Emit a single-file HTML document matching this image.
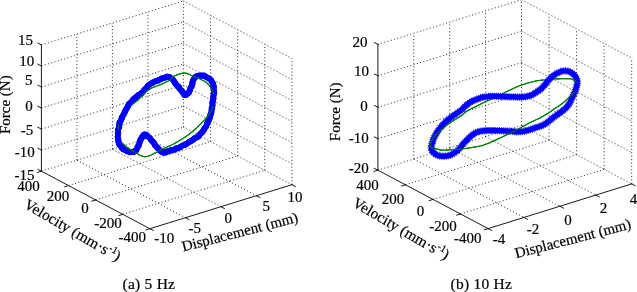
<!DOCTYPE html><html><head><meta charset="utf-8"><style>
html,body{margin:0;padding:0;background:#fff;width:637px;height:292px;overflow:hidden}
svg{display:block;will-change:transform}
.g{stroke:#000;stroke-width:1;stroke-dasharray:1 2.4;opacity:.85;fill:none}
.a{stroke:#1a1a1a;stroke-width:1;fill:none;stroke-linecap:square}
text{font-family:"Liberation Serif",serif;fill:#000;stroke:#000;stroke-width:0.2px}
</style></head><body>
<svg width="637" height="292" viewBox="0 0 637 292">
<rect width="637" height="292" fill="#fff"/>
<line x1="76.90" y1="160.20" x2="185.40" y2="217.70" class="g"/>
<line x1="112.40" y1="149.20" x2="220.90" y2="206.70" class="g"/>
<line x1="147.90" y1="138.20" x2="256.40" y2="195.70" class="g"/>
<line x1="183.40" y1="127.20" x2="291.90" y2="184.70" class="g"/>
<line x1="41.40" y1="171.20" x2="183.40" y2="127.20" class="g"/>
<line x1="68.53" y1="185.57" x2="210.53" y2="141.57" class="g"/>
<line x1="95.65" y1="199.95" x2="237.65" y2="155.95" class="g"/>
<line x1="122.78" y1="214.32" x2="264.77" y2="170.32" class="g"/>
<line x1="76.90" y1="160.20" x2="76.90" y2="34.00" class="g"/>
<line x1="112.40" y1="149.20" x2="112.40" y2="23.00" class="g"/>
<line x1="147.90" y1="138.20" x2="147.90" y2="12.00" class="g"/>
<line x1="183.40" y1="127.20" x2="183.40" y2="1.00" class="g"/>
<line x1="41.40" y1="150.17" x2="183.40" y2="106.17" class="g"/>
<line x1="41.40" y1="129.13" x2="183.40" y2="85.13" class="g"/>
<line x1="41.40" y1="108.10" x2="183.40" y2="64.10" class="g"/>
<line x1="41.40" y1="87.07" x2="183.40" y2="43.07" class="g"/>
<line x1="41.40" y1="66.03" x2="183.40" y2="22.03" class="g"/>
<line x1="41.40" y1="45.00" x2="183.40" y2="1.00" class="g"/>
<line x1="210.53" y1="141.57" x2="210.53" y2="15.37" class="g"/>
<line x1="237.65" y1="155.95" x2="237.65" y2="29.75" class="g"/>
<line x1="264.77" y1="170.32" x2="264.77" y2="44.12" class="g"/>
<line x1="291.90" y1="184.70" x2="291.90" y2="58.50" class="g"/>
<line x1="183.40" y1="106.17" x2="291.90" y2="163.67" class="g"/>
<line x1="183.40" y1="85.13" x2="291.90" y2="142.63" class="g"/>
<line x1="183.40" y1="64.10" x2="291.90" y2="121.60" class="g"/>
<line x1="183.40" y1="43.07" x2="291.90" y2="100.57" class="g"/>
<line x1="183.40" y1="22.03" x2="291.90" y2="79.53" class="g"/>
<line x1="183.40" y1="1.00" x2="291.90" y2="58.50" class="g"/>
<line x1="413.80" y1="159.02" x2="524.00" y2="217.42" class="g"/>
<line x1="449.70" y1="147.85" x2="559.90" y2="206.25" class="g"/>
<line x1="485.60" y1="136.67" x2="595.80" y2="195.07" class="g"/>
<line x1="521.50" y1="125.50" x2="631.70" y2="183.90" class="g"/>
<line x1="377.90" y1="170.20" x2="521.50" y2="125.50" class="g"/>
<line x1="405.45" y1="184.80" x2="549.05" y2="140.10" class="g"/>
<line x1="433.00" y1="199.40" x2="576.60" y2="154.70" class="g"/>
<line x1="460.55" y1="214.00" x2="604.15" y2="169.30" class="g"/>
<line x1="413.80" y1="159.02" x2="413.80" y2="33.22" class="g"/>
<line x1="449.70" y1="147.85" x2="449.70" y2="22.05" class="g"/>
<line x1="485.60" y1="136.67" x2="485.60" y2="10.87" class="g"/>
<line x1="521.50" y1="125.50" x2="521.50" y2="-0.30" class="g"/>
<line x1="377.90" y1="138.75" x2="521.50" y2="94.05" class="g"/>
<line x1="377.90" y1="107.30" x2="521.50" y2="62.60" class="g"/>
<line x1="377.90" y1="75.85" x2="521.50" y2="31.15" class="g"/>
<line x1="377.90" y1="44.40" x2="521.50" y2="-0.30" class="g"/>
<line x1="549.05" y1="140.10" x2="549.05" y2="14.30" class="g"/>
<line x1="576.60" y1="154.70" x2="576.60" y2="28.90" class="g"/>
<line x1="604.15" y1="169.30" x2="604.15" y2="43.50" class="g"/>
<line x1="631.70" y1="183.90" x2="631.70" y2="58.10" class="g"/>
<line x1="521.50" y1="94.05" x2="631.70" y2="152.45" class="g"/>
<line x1="521.50" y1="62.60" x2="631.70" y2="121.00" class="g"/>
<line x1="521.50" y1="31.15" x2="631.70" y2="89.55" class="g"/>
<line x1="521.50" y1="-0.30" x2="631.70" y2="58.10" class="g"/>
<path d="M173.30,76.60 L173.98,76.21 L174.72,75.84 L175.48,75.49 L176.26,75.17 L177.05,74.87 L177.83,74.59 L178.58,74.34 L179.30,74.10 L179.99,73.88 L180.66,73.67 L181.32,73.49 L181.96,73.32 L182.59,73.19 L183.21,73.09 L183.81,73.02 L184.40,73.00 L184.97,73.03 L185.52,73.10 L186.05,73.21 L186.56,73.36 L187.07,73.52 L187.58,73.71 L188.09,73.90 L188.60,74.10 L189.12,74.31 L189.64,74.55 L190.16,74.81 L190.67,75.07 L191.19,75.35 L191.70,75.61 L192.20,75.87 L192.70,76.10 L193.19,76.31 L193.67,76.51 L194.14,76.69 L194.61,76.87 L195.07,77.05 L195.54,77.23 L196.02,77.41 L196.50,77.60 L196.99,77.79 L197.49,77.98 L197.99,78.18 L198.49,78.37 L198.99,78.57 L199.50,78.77 L200.00,78.98 L200.50,79.20 L201.00,79.43 L201.51,79.65 L202.02,79.89 L202.53,80.13 L203.04,80.37 L203.54,80.63 L204.02,80.91 L204.50,81.20 L204.97,81.51 L205.43,81.83 L205.88,82.16 L206.33,82.50 L206.76,82.86 L207.19,83.23 L207.60,83.61 L208.00,84.00 L208.39,84.41 L208.77,84.83 L209.13,85.27 L209.49,85.72 L209.83,86.18 L210.17,86.65 L210.49,87.12 L210.80,87.60 L211.10,88.09 L211.40,88.59 L211.68,89.09 L211.96,89.61 L212.22,90.13 L212.46,90.65 L212.69,91.17 L212.90,91.70 L213.09,92.22 L213.27,92.74 L213.43,93.27 L213.58,93.79 L213.71,94.33 L213.83,94.87 L213.92,95.43 L214.00,96.00 L214.06,96.60 L214.10,97.22 L214.12,97.87 L214.12,98.52 L214.11,99.17 L214.08,99.80 L214.05,100.42 L214.00,101.00 L213.94,101.55 L213.87,102.07 L213.78,102.57 L213.68,103.06 L213.56,103.54 L213.45,104.02 L213.32,104.50 L213.20,105.00 L213.09,105.49 L213.00,105.95 L212.91,106.41 L212.81,106.87 L212.68,107.35 L212.51,107.88 L212.29,108.45 L212.00,109.10 L211.64,109.83 L211.21,110.65 L210.74,111.52 L210.22,112.42 L209.67,113.35 L209.09,114.27 L208.50,115.16 L207.90,116.00 L207.29,116.80 L206.66,117.56 L206.00,118.31 L205.32,119.05 L204.63,119.79 L203.91,120.54 L203.16,121.30 L202.40,122.10 L201.60,122.93 L200.77,123.80 L199.91,124.69 L199.03,125.59 L198.14,126.48 L197.25,127.35 L196.37,128.20 L195.50,129.00 L194.65,129.76 L193.80,130.49 L192.95,131.20 L192.10,131.89 L191.25,132.56 L190.40,133.21 L189.55,133.86 L188.70,134.50 L187.84,135.13 L186.98,135.75 L186.12,136.35 L185.25,136.94 L184.38,137.52 L183.52,138.09 L182.66,138.65 L181.80,139.20 L180.93,139.75 L180.04,140.29 L179.14,140.83 L178.25,141.35 L177.38,141.86 L176.54,142.34 L175.74,142.79 L175.00,143.20 L174.35,143.56 L173.80,143.86 L173.31,144.13 L172.84,144.37 L172.36,144.61 L171.83,144.87 L171.22,145.16 L170.50,145.50 L169.62,145.91 L168.60,146.37 L167.49,146.86 L166.34,147.38 L165.19,147.88 L164.11,148.37 L163.13,148.81 L162.30,149.20 L161.64,149.52 L161.10,149.80 L160.65,150.04 L160.27,150.26 L159.92,150.47 L159.58,150.67 L159.21,150.87 L158.80,151.10 L158.36,151.33 L157.92,151.56 L157.48,151.79 L157.04,152.02 L156.58,152.25 L156.11,152.49 L155.62,152.74 L155.10,153.00 L154.54,153.28 L153.96,153.59 L153.35,153.91 L152.72,154.24 L152.09,154.56 L151.45,154.87 L150.82,155.15 L150.20,155.40 L149.59,155.63 L148.98,155.86 L148.37,156.08 L147.76,156.28 L147.14,156.45 L146.53,156.58 L145.92,156.67 L145.30,156.70 L144.67,156.67 L144.03,156.58 L143.38,156.45 L142.73,156.28 L142.08,156.08 L141.46,155.86 L140.86,155.63 L140.30,155.40 L139.78,155.15 L139.30,154.88 L138.86,154.58 L138.43,154.28 L138.00,153.96 L137.56,153.63 L137.10,153.31 L136.60,153.00 L136.06,152.69 L135.49,152.38 L134.89,152.06 L134.29,151.74 L133.68,151.42 L133.09,151.11 L132.53,150.80 L132.00,150.50 L131.51,150.21 L131.05,149.94 L130.61,149.68 L130.18,149.42 L129.76,149.16 L129.35,148.89 L128.93,148.60 L128.50,148.30 L128.07,147.99 L127.64,147.67 L127.21,147.35 L126.78,147.02 L126.35,146.67 L125.91,146.31 L125.46,145.92 L125.00,145.50 L124.51,145.07 L124.00,144.62 L123.47,144.16 L122.93,143.68 L122.40,143.16 L121.90,142.62 L121.43,142.03 L121.00,141.40 L120.61,140.72 L120.24,139.99 L119.89,139.22 L119.58,138.41 L119.28,137.58 L119.02,136.73 L118.79,135.87 L118.60,135.00 L118.44,134.12 L118.31,133.20 L118.21,132.27 L118.14,131.32 L118.10,130.36 L118.10,129.40 L118.13,128.45 L118.20,127.50 L118.30,126.56 L118.44,125.61 L118.62,124.67 L118.83,123.72 L119.07,122.78 L119.34,121.84 L119.65,120.91 L120.00,120.00 L120.37,119.10 L120.77,118.22 L121.21,117.36 L121.67,116.49 L122.18,115.63 L122.74,114.77 L123.34,113.89 L124.00,113.00 L124.73,112.08 L125.54,111.14 L126.41,110.18 L127.31,109.21 L128.24,108.26 L129.18,107.33 L130.10,106.44 L131.00,105.60 L131.88,104.82 L132.77,104.09 L133.66,103.40 L134.55,102.74 L135.43,102.08 L136.31,101.41 L137.16,100.73 L138.00,100.00 L138.81,99.23 L139.61,98.42 L140.39,97.59 L141.16,96.76 L141.92,95.93 L142.68,95.11 L143.44,94.33 L144.20,93.60 L144.97,92.90 L145.73,92.21 L146.49,91.55 L147.25,90.91 L148.01,90.30 L148.77,89.72 L149.53,89.19 L150.30,88.70 L151.07,88.27 L151.84,87.91 L152.62,87.59 L153.39,87.30 L154.17,87.03 L154.95,86.77 L155.72,86.50 L156.50,86.20 L157.28,85.89 L158.05,85.59 L158.83,85.29 L159.61,84.99 L160.38,84.68 L161.16,84.37 L161.93,84.04 L162.70,83.70 L163.48,83.35 L164.27,82.99 L165.07,82.62 L165.86,82.24 L166.63,81.85 L167.39,81.45 L168.11,81.03 L168.80,80.60 L169.43,80.13 L170.00,79.63 L170.54,79.10 L171.06,78.56 L171.57,78.03 L172.11,77.52 L172.68,77.03 Z" fill="none" stroke="#008000" stroke-width="1.1"/>
<path d="M430.00,146.00 L429.94,145.74 L429.92,145.47 L429.94,145.17 L429.99,144.86 L430.07,144.54 L430.16,144.20 L430.28,143.85 L430.40,143.50 L430.54,143.14 L430.69,142.78 L430.86,142.41 L431.06,142.03 L431.27,141.63 L431.49,141.21 L431.74,140.77 L432.00,140.30 L432.27,139.80 L432.56,139.25 L432.86,138.69 L433.18,138.10 L433.52,137.51 L433.89,136.92 L434.28,136.35 L434.70,135.80 L435.16,135.28 L435.65,134.77 L436.16,134.27 L436.71,133.78 L437.27,133.29 L437.84,132.80 L438.42,132.31 L439.00,131.80 L439.60,131.28 L440.22,130.74 L440.87,130.20 L441.52,129.66 L442.17,129.12 L442.80,128.59 L443.42,128.08 L444.00,127.60 L444.53,127.15 L445.02,126.73 L445.47,126.34 L445.92,125.95 L446.38,125.56 L446.86,125.17 L447.40,124.75 L448.00,124.30 L448.69,123.81 L449.46,123.28 L450.29,122.72 L451.14,122.16 L452.00,121.60 L452.83,121.06 L453.60,120.55 L454.30,120.10 L454.92,119.70 L455.48,119.34 L456.00,119.01 L456.49,118.71 L456.96,118.41 L457.43,118.12 L457.90,117.82 L458.40,117.50 L458.92,117.17 L459.44,116.84 L459.96,116.51 L460.49,116.17 L461.01,115.84 L461.52,115.50 L462.02,115.15 L462.50,114.80 L462.96,114.44 L463.40,114.06 L463.83,113.67 L464.25,113.28 L464.67,112.89 L465.10,112.51 L465.54,112.15 L466.00,111.80 L466.48,111.47 L466.98,111.15 L467.49,110.84 L468.01,110.54 L468.54,110.25 L469.06,109.96 L469.58,109.68 L470.10,109.40 L470.61,109.12 L471.12,108.85 L471.64,108.59 L472.15,108.33 L472.66,108.07 L473.18,107.81 L473.69,107.56 L474.20,107.30 L474.71,107.05 L475.22,106.80 L475.74,106.55 L476.25,106.30 L476.76,106.05 L477.27,105.80 L477.79,105.55 L478.30,105.30 L478.81,105.04 L479.32,104.78 L479.84,104.52 L480.35,104.25 L480.86,103.98 L481.38,103.72 L481.89,103.46 L482.40,103.20 L482.92,102.94 L483.44,102.68 L483.96,102.42 L484.49,102.16 L485.01,101.91 L485.52,101.66 L486.02,101.43 L486.50,101.20 L486.96,100.99 L487.40,100.79 L487.83,100.61 L488.24,100.43 L488.66,100.26 L489.09,100.08 L489.53,99.89 L490.00,99.70 L490.49,99.50 L491.01,99.29 L491.53,99.08 L492.07,98.87 L492.61,98.65 L493.15,98.44 L493.68,98.22 L494.20,98.00 L494.71,97.78 L495.21,97.57 L495.71,97.35 L496.21,97.14 L496.70,96.92 L497.20,96.69 L497.70,96.45 L498.20,96.20 L498.71,95.94 L499.22,95.66 L499.73,95.37 L500.24,95.07 L500.76,94.77 L501.27,94.47 L501.79,94.18 L502.30,93.90 L502.81,93.63 L503.33,93.36 L503.85,93.09 L504.37,92.83 L504.88,92.56 L505.40,92.31 L505.90,92.05 L506.40,91.80 L506.89,91.55 L507.37,91.31 L507.85,91.06 L508.32,90.83 L508.79,90.59 L509.26,90.36 L509.73,90.13 L510.20,89.90 L510.68,89.68 L511.17,89.45 L511.66,89.23 L512.15,89.02 L512.63,88.81 L513.11,88.60 L513.56,88.40 L514.00,88.20 L514.41,88.01 L514.80,87.83 L515.18,87.65 L515.54,87.47 L515.90,87.30 L516.26,87.14 L516.63,86.97 L517.00,86.80 L517.38,86.63 L517.74,86.47 L518.11,86.31 L518.48,86.14 L518.86,85.98 L519.25,85.82 L519.66,85.66 L520.10,85.50 L520.56,85.34 L521.05,85.17 L521.56,85.01 L522.09,84.85 L522.62,84.69 L523.15,84.53 L523.68,84.36 L524.20,84.20 L524.71,84.04 L525.23,83.87 L525.74,83.70 L526.25,83.54 L526.76,83.37 L527.27,83.21 L527.79,83.05 L528.30,82.90 L528.81,82.75 L529.32,82.61 L529.84,82.46 L530.35,82.33 L530.86,82.19 L531.37,82.06 L531.89,81.93 L532.40,81.80 L532.91,81.68 L533.43,81.55 L533.94,81.43 L534.46,81.32 L534.97,81.21 L535.48,81.10 L535.99,81.00 L536.50,80.90 L537.00,80.81 L537.47,80.73 L537.95,80.65 L538.42,80.58 L538.90,80.51 L539.40,80.44 L539.93,80.37 L540.50,80.30 L541.11,80.22 L541.76,80.15 L542.44,80.08 L543.14,80.00 L543.85,79.92 L544.55,79.85 L545.24,79.77 L545.90,79.70 L546.54,79.62 L547.16,79.54 L547.77,79.46 L548.38,79.38 L548.98,79.30 L549.59,79.22 L550.19,79.16 L550.80,79.10 L551.41,79.06 L552.03,79.02 L552.64,78.99 L553.26,78.97 L553.87,78.95 L554.48,78.93 L555.09,78.92 L555.70,78.90 L556.30,78.88 L556.89,78.87 L557.48,78.86 L558.06,78.85 L558.65,78.84 L559.25,78.83 L559.87,78.81 L560.50,78.80 L561.16,78.78 L561.85,78.76 L562.55,78.73 L563.26,78.71 L563.97,78.69 L564.67,78.67 L565.35,78.65 L566.00,78.65 L566.62,78.65 L567.23,78.63 L567.83,78.62 L568.41,78.62 L568.98,78.63 L569.53,78.66 L570.07,78.71 L570.60,78.80 L571.12,78.92 L571.63,79.08 L572.12,79.26 L572.61,79.46 L573.07,79.67 L573.51,79.89 L573.92,80.10 L574.30,80.30 L574.65,80.49 L574.97,80.68 L575.26,80.87 L575.52,81.06 L575.77,81.26 L576.00,81.46 L576.21,81.68 L576.40,81.90 L576.58,82.13 L576.74,82.37 L576.89,82.61 L577.02,82.86 L577.13,83.12 L577.21,83.40 L577.27,83.69 L577.30,84.00 L577.30,84.33 L577.27,84.69 L577.22,85.06 L577.14,85.44 L577.04,85.84 L576.93,86.23 L576.82,86.62 L576.70,87.00 L576.57,87.38 L576.43,87.76 L576.28,88.14 L576.11,88.52 L575.94,88.90 L575.76,89.28 L575.58,89.64 L575.40,90.00 L575.22,90.34 L575.05,90.67 L574.88,90.98 L574.71,91.29 L574.52,91.61 L574.31,91.92 L574.07,92.25 L573.80,92.60 L573.50,92.96 L573.17,93.32 L572.83,93.69 L572.46,94.07 L572.07,94.46 L571.66,94.86 L571.24,95.27 L570.80,95.70 L570.34,96.15 L569.85,96.63 L569.33,97.13 L568.81,97.63 L568.27,98.14 L567.74,98.64 L567.21,99.13 L566.70,99.60 L566.20,100.06 L565.70,100.51 L565.20,100.95 L564.70,101.39 L564.21,101.81 L563.73,102.22 L563.26,102.62 L562.80,103.00 L562.36,103.36 L561.93,103.70 L561.51,104.03 L561.09,104.34 L560.69,104.65 L560.29,104.94 L559.89,105.22 L559.50,105.50 L559.12,105.76 L558.75,105.99 L558.40,106.21 L558.05,106.42 L557.69,106.64 L557.32,106.87 L556.93,107.12 L556.50,107.40 L556.04,107.72 L555.55,108.06 L555.04,108.42 L554.52,108.79 L553.99,109.18 L553.45,109.56 L552.92,109.94 L552.40,110.30 L551.89,110.66 L551.38,111.01 L550.86,111.37 L550.35,111.72 L549.84,112.08 L549.32,112.42 L548.81,112.77 L548.30,113.10 L547.79,113.43 L547.28,113.75 L546.77,114.07 L546.26,114.38 L545.74,114.69 L545.23,115.00 L544.72,115.30 L544.20,115.60 L543.68,115.90 L543.14,116.20 L542.60,116.50 L542.06,116.80 L541.53,117.09 L541.00,117.37 L540.49,117.64 L540.00,117.90 L539.53,118.14 L539.09,118.36 L538.66,118.57 L538.24,118.77 L537.83,118.97 L537.40,119.17 L536.96,119.38 L536.50,119.60 L536.02,119.84 L535.52,120.08 L535.01,120.33 L534.49,120.58 L533.96,120.84 L533.44,121.09 L532.92,121.35 L532.40,121.60 L531.89,121.85 L531.38,122.10 L530.86,122.35 L530.35,122.59 L529.84,122.84 L529.32,123.09 L528.81,123.35 L528.30,123.60 L527.79,123.86 L527.27,124.11 L526.76,124.37 L526.25,124.63 L525.74,124.89 L525.23,125.16 L524.71,125.43 L524.20,125.70 L523.69,125.98 L523.18,126.27 L522.66,126.56 L522.15,126.85 L521.64,127.14 L521.13,127.43 L520.61,127.72 L520.10,128.00 L519.60,128.27 L519.11,128.52 L518.63,128.76 L518.14,129.00 L517.65,129.25 L517.13,129.51 L516.58,129.79 L516.00,130.10 L515.39,130.43 L514.77,130.79 L514.12,131.16 L513.46,131.54 L512.76,131.94 L512.02,132.35 L511.23,132.77 L510.40,133.20 L509.49,133.65 L508.50,134.12 L507.45,134.61 L506.36,135.11 L505.27,135.60 L504.20,136.09 L503.17,136.56 L502.20,137.00 L501.29,137.42 L500.40,137.82 L499.54,138.21 L498.71,138.59 L497.89,138.95 L497.11,139.31 L496.34,139.66 L495.60,140.00 L494.89,140.33 L494.23,140.65 L493.60,140.95 L492.98,141.25 L492.38,141.54 L491.77,141.83 L491.15,142.11 L490.50,142.40 L489.83,142.69 L489.13,142.98 L488.43,143.27 L487.73,143.56 L487.02,143.84 L486.33,144.11 L485.65,144.36 L485.00,144.60 L484.40,144.81 L483.85,145.00 L483.34,145.18 L482.83,145.34 L482.29,145.50 L481.71,145.66 L481.05,145.83 L480.30,146.00 L479.43,146.19 L478.46,146.38 L477.42,146.57 L476.33,146.77 L475.22,146.96 L474.11,147.15 L473.03,147.33 L472.00,147.50 L471.02,147.66 L470.06,147.81 L469.13,147.95 L468.19,148.09 L467.26,148.23 L466.33,148.36 L465.37,148.48 L464.40,148.60 L463.39,148.72 L462.35,148.83 L461.28,148.94 L460.21,149.04 L459.15,149.14 L458.12,149.24 L457.13,149.32 L456.20,149.40 L455.31,149.47 L454.45,149.53 L453.61,149.58 L452.81,149.63 L452.04,149.67 L451.31,149.71 L450.63,149.75 L450.00,149.80 L449.44,149.85 L448.95,149.91 L448.52,149.97 L448.12,150.03 L447.74,150.08 L447.35,150.13 L446.95,150.17 L446.50,150.20 L446.02,150.22 L445.52,150.25 L445.01,150.26 L444.49,150.27 L443.96,150.28 L443.44,150.27 L442.92,150.24 L442.40,150.20 L441.88,150.14 L441.36,150.06 L440.84,149.97 L440.32,149.87 L439.80,149.76 L439.29,149.64 L438.79,149.52 L438.30,149.40 L437.82,149.28 L437.35,149.14 L436.88,149.00 L436.42,148.86 L435.98,148.71 L435.54,148.57 L435.11,148.43 L434.70,148.30 L434.30,148.18 L433.90,148.07 L433.51,147.97 L433.14,147.87 L432.78,147.77 L432.43,147.66 L432.11,147.54 L431.80,147.40 L431.51,147.26 L431.22,147.11 L430.95,146.96 L430.69,146.80 L430.47,146.63 L430.27,146.44 L430.11,146.23 Z" fill="none" stroke="#008000" stroke-width="1.1"/>
<defs><mask id="mL" maskUnits="userSpaceOnUse" x="0" y="0" width="637" height="292"><rect x="0" y="0" width="637" height="292" fill="#fff"/><polygon points="111,124.3 124.5,124.3 137,105.2 124,105.2" fill="#000"/><rect x="111" y="129.4" width="13" height="12.4" fill="#000"/><rect x="208" y="93.5" width="12" height="12.5" fill="#000"/></mask><mask id="mR" maskUnits="userSpaceOnUse" x="0" y="0" width="637" height="292"><rect x="0" y="0" width="637" height="292" fill="#fff"/><rect x="543.6" y="76" width="11" height="6" fill="#000"/><polygon points="489,92.8 507,92.8 507,100.2 489,99.4" fill="#000"/><rect x="572" y="82.6" width="9" height="9" fill="#000"/></mask></defs>
<path d="M120.40,146.00 L120.25,145.77 L120.10,145.54 L119.95,145.30 L119.81,145.06 L119.67,144.82 L119.54,144.57 L119.42,144.32 L119.29,144.07 L119.18,143.82 L119.06,143.57 L118.96,143.32 L118.86,143.07 L118.76,142.83 L118.67,142.58 L118.58,142.34 L118.50,142.10 L118.43,141.87 L118.36,141.65 L118.30,141.43 L118.24,141.23 L118.19,141.02 L118.15,140.82 L118.11,140.62 L118.08,140.41 L118.04,140.20 L118.02,139.98 L117.99,139.76 L117.97,139.52 L117.95,139.26 L117.93,139.00 L117.92,138.71 L117.90,138.40 L117.89,138.07 L117.87,137.71 L117.86,137.33 L117.86,136.94 L117.85,136.53 L117.85,136.10 L117.85,135.67 L117.86,135.23 L117.87,134.79 L117.88,134.35 L117.89,133.91 L117.91,133.49 L117.92,133.07 L117.95,132.66 L117.97,132.27 L118.00,131.90 L118.03,131.55 L118.07,131.20 L118.11,130.87 L118.15,130.54 L118.20,130.22 L118.25,129.91 L118.30,129.60 L118.36,129.30 L118.42,129.00 L118.48,128.70 L118.54,128.40 L118.60,128.11 L118.66,127.81 L118.72,127.51 L118.79,127.21 L118.85,126.90 L118.91,126.59 L118.98,126.27 L119.04,125.95 L119.11,125.63 L119.18,125.30 L119.25,124.98 L119.32,124.65 L119.39,124.33 L119.46,124.01 L119.53,123.70 L119.61,123.39 L119.68,123.10 L119.76,122.81 L119.84,122.53 L119.92,122.26 L120.00,122.00 L120.08,121.76 L120.16,121.54 L120.24,121.33 L120.33,121.13 L120.41,120.94 L120.50,120.76 L120.58,120.59 L120.67,120.42 L120.76,120.25 L120.85,120.08 L120.94,119.90 L121.04,119.72 L121.14,119.54 L121.24,119.34 L121.34,119.13 L121.45,118.90 L121.56,118.66 L121.67,118.41 L121.79,118.16 L121.91,117.90 L122.03,117.63 L122.16,117.35 L122.28,117.08 L122.41,116.79 L122.54,116.51 L122.67,116.22 L122.81,115.93 L122.94,115.64 L123.08,115.36 L123.22,115.07 L123.36,114.78 L123.50,114.50 L123.64,114.22 L123.79,113.94 L123.94,113.65 L124.09,113.37 L124.25,113.09 L124.40,112.80 L124.56,112.52 L124.72,112.23 L124.88,111.94 L125.04,111.66 L125.20,111.37 L125.36,111.08 L125.52,110.78 L125.68,110.49 L125.84,110.20 L126.00,109.90 L126.15,109.60 L126.31,109.30 L126.45,108.99 L126.60,108.68 L126.75,108.36 L126.89,108.04 L127.04,107.73 L127.19,107.41 L127.34,107.10 L127.49,106.78 L127.64,106.47 L127.80,106.17 L127.97,105.87 L128.14,105.57 L128.32,105.28 L128.50,105.00 L128.69,104.73 L128.88,104.46 L129.08,104.20 L129.29,103.94 L129.50,103.69 L129.71,103.44 L129.92,103.20 L130.14,102.96 L130.37,102.72 L130.59,102.48 L130.82,102.23 L131.05,101.99 L131.29,101.75 L131.52,101.50 L131.76,101.25 L132.00,101.00 L132.25,100.74 L132.50,100.47 L132.76,100.19 L133.02,99.91 L133.29,99.63 L133.57,99.35 L133.84,99.06 L134.12,98.78 L134.39,98.50 L134.67,98.23 L134.94,97.96 L135.20,97.71 L135.46,97.46 L135.72,97.23 L135.96,97.01 L136.20,96.80 L136.43,96.61 L136.65,96.44 L136.86,96.28 L137.07,96.14 L137.28,96.00 L137.48,95.88 L137.67,95.76 L137.87,95.64 L138.06,95.53 L138.25,95.42 L138.44,95.32 L138.63,95.20 L138.82,95.09 L139.01,94.97 L139.20,94.84 L139.40,94.70 L139.60,94.56 L139.79,94.41 L139.99,94.27 L140.18,94.13 L140.38,93.99 L140.57,93.84 L140.76,93.70 L140.96,93.55 L141.15,93.40 L141.34,93.24 L141.53,93.08 L141.73,92.92 L141.92,92.75 L142.11,92.57 L142.31,92.39 L142.50,92.20 L142.69,92.00 L142.89,91.79 L143.09,91.57 L143.28,91.34 L143.48,91.11 L143.68,90.87 L143.88,90.62 L144.08,90.38 L144.27,90.13 L144.47,89.88 L144.66,89.64 L144.85,89.40 L145.04,89.16 L145.23,88.93 L145.42,88.71 L145.60,88.50 L145.78,88.30 L145.96,88.09 L146.13,87.89 L146.30,87.70 L146.47,87.50 L146.64,87.31 L146.80,87.13 L146.97,86.94 L147.13,86.76 L147.30,86.59 L147.46,86.41 L147.63,86.24 L147.79,86.08 L147.96,85.91 L148.13,85.76 L148.30,85.60 L148.47,85.45 L148.64,85.30 L148.82,85.16 L148.99,85.03 L149.16,84.90 L149.34,84.77 L149.51,84.64 L149.69,84.52 L149.86,84.40 L150.04,84.28 L150.21,84.17 L150.39,84.05 L150.57,83.94 L150.74,83.82 L150.92,83.71 L151.10,83.60 L151.28,83.49 L151.46,83.38 L151.64,83.27 L151.82,83.16 L152.00,83.06 L152.18,82.95 L152.36,82.85 L152.54,82.75 L152.72,82.65 L152.90,82.55 L153.08,82.46 L153.27,82.36 L153.45,82.27 L153.63,82.18 L153.82,82.09 L154.00,82.00 L154.18,81.91 L154.37,81.83 L154.55,81.75 L154.74,81.68 L154.92,81.61 L155.10,81.53 L155.29,81.46 L155.47,81.39 L155.66,81.32 L155.85,81.25 L156.04,81.18 L156.23,81.11 L156.42,81.04 L156.61,80.96 L156.80,80.88 L157.00,80.80 L157.20,80.71 L157.39,80.63 L157.59,80.54 L157.79,80.45 L157.98,80.36 L158.18,80.26 L158.38,80.17 L158.58,80.08 L158.78,79.98 L158.99,79.88 L159.20,79.79 L159.41,79.69 L159.63,79.59 L159.85,79.49 L160.07,79.40 L160.30,79.30 L160.54,79.20 L160.78,79.10 L161.03,79.00 L161.28,78.89 L161.54,78.78 L161.80,78.68 L162.07,78.57 L162.33,78.46 L162.60,78.36 L162.86,78.25 L163.13,78.15 L163.39,78.05 L163.65,77.96 L163.91,77.87 L164.16,77.78 L164.40,77.70 L164.64,77.62 L164.88,77.54 L165.11,77.46 L165.34,77.37 L165.57,77.29 L165.80,77.21 L166.03,77.13 L166.25,77.06 L166.47,77.00 L166.69,76.94 L166.91,76.89 L167.13,76.85 L167.35,76.82 L167.57,76.80 L167.78,76.79 L168.00,76.80 L168.21,76.82 L168.43,76.85 L168.64,76.88 L168.85,76.92 L169.05,76.98 L169.26,77.04 L169.46,77.11 L169.67,77.19 L169.87,77.28 L170.08,77.38 L170.28,77.49 L170.48,77.61 L170.69,77.74 L170.89,77.88 L171.09,78.03 L171.30,78.20 L171.51,78.38 L171.71,78.58 L171.92,78.80 L172.12,79.04 L172.33,79.28 L172.54,79.54 L172.74,79.81 L172.95,80.08 L173.16,80.36 L173.36,80.64 L173.57,80.93 L173.78,81.21 L173.98,81.49 L174.19,81.77 L174.39,82.04 L174.60,82.30 L174.81,82.56 L175.01,82.82 L175.22,83.08 L175.43,83.34 L175.64,83.60 L175.85,83.86 L176.06,84.12 L176.27,84.38 L176.48,84.64 L176.68,84.90 L176.89,85.16 L177.10,85.41 L177.30,85.66 L177.50,85.91 L177.70,86.16 L177.90,86.40 L178.10,86.64 L178.29,86.88 L178.49,87.11 L178.69,87.35 L178.88,87.58 L179.08,87.81 L179.27,88.04 L179.46,88.27 L179.65,88.49 L179.84,88.72 L180.02,88.94 L180.21,89.15 L180.39,89.37 L180.56,89.58 L180.73,89.79 L180.90,90.00 L181.06,90.21 L181.22,90.41 L181.38,90.61 L181.53,90.82 L181.68,91.02 L181.83,91.21 L181.97,91.41 L182.11,91.60 L182.25,91.79 L182.39,91.97 L182.53,92.16 L182.66,92.33 L182.80,92.51 L182.93,92.68 L183.07,92.84 L183.20,93.00 L183.33,93.16 L183.46,93.32 L183.59,93.48 L183.71,93.64 L183.84,93.80 L183.96,93.96 L184.08,94.11 L184.20,94.25 L184.32,94.39 L184.44,94.51 L184.56,94.63 L184.69,94.73 L184.81,94.82 L184.94,94.90 L185.07,94.96 L185.20,95.00 L185.34,95.02 L185.48,95.03 L185.62,95.02 L185.77,95.00 L185.91,94.96 L186.06,94.91 L186.21,94.85 L186.36,94.78 L186.51,94.70 L186.66,94.62 L186.81,94.52 L186.95,94.43 L187.10,94.32 L187.23,94.22 L187.37,94.11 L187.50,94.00 L187.63,93.89 L187.75,93.76 L187.88,93.63 L188.00,93.50 L188.12,93.35 L188.23,93.20 L188.35,93.05 L188.46,92.89 L188.57,92.72 L188.68,92.55 L188.79,92.38 L188.90,92.21 L189.00,92.03 L189.10,91.86 L189.20,91.68 L189.30,91.50 L189.39,91.32 L189.49,91.14 L189.57,90.95 L189.66,90.76 L189.74,90.57 L189.82,90.38 L189.90,90.18 L189.98,89.98 L190.05,89.78 L190.13,89.57 L190.20,89.37 L190.28,89.16 L190.36,88.95 L190.44,88.73 L190.52,88.52 L190.60,88.30 L190.68,88.08 L190.77,87.86 L190.85,87.64 L190.94,87.42 L191.03,87.20 L191.11,86.97 L191.20,86.74 L191.29,86.51 L191.38,86.28 L191.46,86.04 L191.55,85.80 L191.64,85.55 L191.73,85.30 L191.82,85.04 L191.91,84.77 L192.00,84.50 L192.09,84.22 L192.17,83.92 L192.26,83.61 L192.34,83.29 L192.42,82.96 L192.50,82.62 L192.58,82.29 L192.67,81.95 L192.76,81.61 L192.85,81.28 L192.94,80.96 L193.04,80.64 L193.14,80.33 L193.25,80.04 L193.37,79.76 L193.50,79.50 L193.63,79.25 L193.77,79.02 L193.91,78.79 L194.06,78.56 L194.21,78.35 L194.36,78.14 L194.52,77.94 L194.69,77.75 L194.86,77.57 L195.03,77.39 L195.21,77.22 L195.40,77.06 L195.59,76.91 L195.79,76.77 L195.99,76.63 L196.20,76.50 L196.42,76.38 L196.65,76.27 L196.88,76.17 L197.13,76.07 L197.38,75.99 L197.63,75.91 L197.90,75.84 L198.16,75.78 L198.43,75.73 L198.70,75.68 L198.97,75.63 L199.24,75.60 L199.51,75.57 L199.78,75.54 L200.04,75.52 L200.30,75.50 L200.56,75.49 L200.81,75.48 L201.07,75.48 L201.33,75.48 L201.58,75.49 L201.84,75.50 L202.09,75.52 L202.35,75.55 L202.61,75.58 L202.86,75.62 L203.12,75.67 L203.38,75.72 L203.63,75.78 L203.89,75.85 L204.14,75.92 L204.40,76.00 L204.66,76.09 L204.92,76.19 L205.18,76.30 L205.45,76.42 L205.72,76.55 L205.99,76.68 L206.25,76.82 L206.52,76.97 L206.78,77.12 L207.04,77.27 L207.30,77.43 L207.55,77.58 L207.80,77.74 L208.04,77.89 L208.27,78.05 L208.50,78.20 L208.72,78.35 L208.94,78.50 L209.15,78.64 L209.36,78.79 L209.56,78.93 L209.76,79.08 L209.96,79.23 L210.15,79.38 L210.34,79.54 L210.52,79.70 L210.70,79.86 L210.87,80.04 L211.04,80.21 L211.20,80.40 L211.35,80.60 L211.50,80.80 L211.64,81.01 L211.78,81.23 L211.91,81.46 L212.03,81.70 L212.14,81.94 L212.25,82.19 L212.36,82.44 L212.46,82.70 L212.56,82.96 L212.65,83.23 L212.74,83.50 L212.83,83.78 L212.91,84.05 L212.99,84.33 L213.07,84.62 L213.15,84.90 L213.23,85.19 L213.30,85.48 L213.37,85.78 L213.43,86.09 L213.50,86.40 L213.56,86.71 L213.61,87.03 L213.67,87.35 L213.71,87.67 L213.76,87.99 L213.80,88.31 L213.84,88.64 L213.87,88.96 L213.90,89.27 L213.93,89.59 L213.95,89.90 L213.97,90.21 L213.98,90.52 L213.98,90.82 L213.98,91.13 L213.98,91.44 L213.97,91.74 L213.96,92.05 L213.95,92.36 L213.93,92.66 L213.91,92.97 L213.89,93.27 L213.87,93.58 L213.84,93.88 L213.81,94.19 L213.78,94.49 L213.75,94.80 L213.72,95.11 L213.68,95.42 L213.63,95.73 L213.58,96.04 L213.53,96.35 L213.48,96.66 L213.42,96.98 L213.37,97.29 L213.31,97.60 L213.25,97.91 L213.19,98.21 L213.14,98.52 L213.09,98.82 L213.04,99.12 L212.99,99.41 L212.95,99.70 L212.91,99.98 L212.88,100.26 L212.85,100.53 L212.82,100.80 L212.79,101.07 L212.76,101.33 L212.74,101.59 L212.72,101.85 L212.69,102.11 L212.67,102.37 L212.64,102.63 L212.62,102.90 L212.59,103.17 L212.56,103.44 L212.53,103.72 L212.50,104.00 L212.47,104.29 L212.43,104.58 L212.40,104.87 L212.36,105.17 L212.33,105.47 L212.29,105.77 L212.25,106.08 L212.21,106.38 L212.17,106.69 L212.13,107.00 L212.09,107.31 L212.05,107.63 L212.00,107.94 L211.95,108.26 L211.90,108.58 L211.85,108.90 L211.80,109.22 L211.74,109.55 L211.69,109.89 L211.63,110.23 L211.57,110.57 L211.51,110.91 L211.45,111.25 L211.38,111.60 L211.32,111.95 L211.25,112.29 L211.18,112.63 L211.11,112.97 L211.04,113.31 L210.96,113.65 L210.88,113.98 L210.80,114.30 L210.72,114.62 L210.63,114.94 L210.54,115.26 L210.45,115.57 L210.36,115.88 L210.26,116.19 L210.16,116.50 L210.07,116.81 L209.96,117.11 L209.86,117.41 L209.76,117.72 L209.65,118.01 L209.54,118.31 L209.43,118.61 L209.31,118.91 L209.20,119.20 L209.08,119.49 L208.96,119.78 L208.84,120.07 L208.71,120.36 L208.58,120.64 L208.44,120.93 L208.31,121.21 L208.17,121.49 L208.04,121.77 L207.90,122.04 L207.77,122.32 L207.63,122.60 L207.49,122.87 L207.36,123.15 L207.23,123.42 L207.10,123.70 L206.97,123.97 L206.86,124.25 L206.74,124.51 L206.63,124.78 L206.52,125.05 L206.41,125.31 L206.30,125.58 L206.19,125.84 L206.07,126.11 L205.96,126.37 L205.83,126.64 L205.70,126.91 L205.57,127.18 L205.42,127.45 L205.27,127.72 L205.10,128.00 L204.92,128.28 L204.73,128.57 L204.54,128.85 L204.33,129.15 L204.12,129.44 L203.90,129.73 L203.68,130.03 L203.45,130.32 L203.22,130.62 L202.99,130.91 L202.75,131.20 L202.52,131.49 L202.28,131.78 L202.05,132.06 L201.82,132.33 L201.60,132.60 L201.38,132.87 L201.15,133.13 L200.93,133.40 L200.70,133.67 L200.48,133.93 L200.25,134.19 L200.03,134.45 L199.80,134.71 L199.57,134.96 L199.35,135.20 L199.12,135.44 L198.90,135.67 L198.67,135.89 L198.45,136.10 L198.22,136.31 L198.00,136.50 L197.78,136.68 L197.56,136.84 L197.35,137.00 L197.13,137.14 L196.92,137.27 L196.71,137.40 L196.49,137.51 L196.28,137.63 L196.07,137.74 L195.85,137.85 L195.63,137.96 L195.41,138.08 L195.19,138.20 L194.97,138.32 L194.74,138.46 L194.50,138.60 L194.26,138.75 L194.02,138.90 L193.77,139.06 L193.52,139.22 L193.26,139.39 L193.01,139.55 L192.75,139.72 L192.49,139.89 L192.23,140.06 L191.96,140.23 L191.70,140.40 L191.44,140.57 L191.18,140.75 L190.92,140.91 L190.66,141.08 L190.40,141.25 L190.14,141.42 L189.89,141.59 L189.63,141.76 L189.38,141.93 L189.12,142.10 L188.86,142.27 L188.61,142.44 L188.35,142.62 L188.09,142.79 L187.84,142.95 L187.58,143.12 L187.33,143.28 L187.07,143.44 L186.81,143.60 L186.56,143.75 L186.30,143.90 L186.04,144.04 L185.79,144.18 L185.53,144.31 L185.28,144.44 L185.02,144.57 L184.76,144.69 L184.51,144.81 L184.25,144.93 L183.99,145.05 L183.74,145.17 L183.48,145.29 L183.22,145.41 L182.97,145.53 L182.71,145.65 L182.46,145.77 L182.20,145.90 L181.94,146.03 L181.68,146.16 L181.42,146.30 L181.16,146.44 L180.90,146.58 L180.64,146.72 L180.38,146.85 L180.12,146.99 L179.86,147.13 L179.60,147.27 L179.34,147.40 L179.09,147.53 L178.84,147.65 L178.59,147.78 L178.34,147.89 L178.10,148.00 L177.86,148.10 L177.63,148.20 L177.40,148.29 L177.17,148.38 L176.95,148.47 L176.73,148.55 L176.51,148.63 L176.29,148.71 L176.08,148.78 L175.86,148.85 L175.64,148.93 L175.42,149.00 L175.19,149.07 L174.97,149.15 L174.74,149.22 L174.50,149.30 L174.26,149.38 L174.01,149.46 L173.76,149.53 L173.51,149.61 L173.25,149.69 L172.99,149.77 L172.73,149.84 L172.47,149.92 L172.21,149.99 L171.95,150.07 L171.70,150.14 L171.45,150.22 L171.20,150.29 L170.96,150.36 L170.73,150.43 L170.50,150.50 L170.28,150.57 L170.07,150.63 L169.86,150.70 L169.66,150.76 L169.46,150.82 L169.26,150.89 L169.07,150.95 L168.88,151.01 L168.69,151.07 L168.51,151.13 L168.32,151.19 L168.14,151.25 L167.96,151.31 L167.77,151.37 L167.59,151.44 L167.40,151.50 L167.21,151.57 L167.02,151.64 L166.83,151.72 L166.64,151.80 L166.46,151.88 L166.27,151.97 L166.08,152.05 L165.89,152.13 L165.71,152.21 L165.53,152.29 L165.35,152.36 L165.17,152.42 L165.00,152.48 L164.83,152.53 L164.66,152.57 L164.50,152.60 L164.35,152.63 L164.20,152.65 L164.07,152.67 L163.94,152.69 L163.81,152.71 L163.69,152.72 L163.57,152.73 L163.45,152.73 L163.33,152.71 L163.20,152.69 L163.07,152.66 L162.94,152.62 L162.80,152.56 L162.64,152.49 L162.48,152.40 L162.30,152.30 L162.11,152.18 L161.91,152.03 L161.69,151.87 L161.47,151.70 L161.24,151.50 L161.00,151.30 L160.76,151.09 L160.52,150.86 L160.27,150.63 L160.02,150.40 L159.78,150.16 L159.53,149.92 L159.29,149.69 L159.05,149.45 L158.82,149.22 L158.60,149.00 L158.38,148.78 L158.17,148.57 L157.96,148.35 L157.75,148.13 L157.55,147.92 L157.35,147.70 L157.14,147.48 L156.94,147.26 L156.74,147.03 L156.54,146.80 L156.34,146.57 L156.14,146.33 L155.93,146.08 L155.72,145.83 L155.51,145.57 L155.30,145.30 L155.08,145.02 L154.86,144.73 L154.64,144.42 L154.41,144.10 L154.19,143.78 L153.96,143.45 L153.73,143.11 L153.50,142.78 L153.27,142.44 L153.04,142.11 L152.81,141.78 L152.59,141.46 L152.36,141.15 L152.14,140.85 L151.92,140.57 L151.70,140.30 L151.49,140.05 L151.27,139.80 L151.06,139.57 L150.86,139.34 L150.65,139.12 L150.44,138.91 L150.24,138.71 L150.04,138.51 L149.83,138.31 L149.63,138.12 L149.43,137.93 L149.22,137.74 L149.02,137.56 L148.82,137.37 L148.61,137.19 L148.40,137.00 L148.19,136.80 L147.98,136.59 L147.77,136.37 L147.56,136.13 L147.35,135.90 L147.15,135.66 L146.94,135.43 L146.73,135.21 L146.51,135.01 L146.30,134.82 L146.09,134.65 L145.87,134.51 L145.66,134.40 L145.44,134.33 L145.22,134.29 L145.00,134.30 L144.77,134.35 L144.54,134.44 L144.30,134.56 L144.06,134.72 L143.82,134.91 L143.57,135.12 L143.32,135.35 L143.08,135.61 L142.83,135.88 L142.59,136.16 L142.36,136.46 L142.13,136.76 L141.91,137.07 L141.69,137.38 L141.49,137.69 L141.30,138.00 L141.12,138.32 L140.95,138.66 L140.78,139.02 L140.63,139.40 L140.48,139.79 L140.33,140.19 L140.20,140.60 L140.06,141.01 L139.93,141.42 L139.81,141.83 L139.69,142.23 L139.57,142.62 L139.45,143.00 L139.33,143.35 L139.22,143.69 L139.10,144.00 L138.99,144.29 L138.88,144.56 L138.78,144.83 L138.68,145.07 L138.58,145.31 L138.49,145.54 L138.40,145.76 L138.31,145.97 L138.23,146.17 L138.14,146.37 L138.05,146.56 L137.97,146.75 L137.88,146.94 L137.79,147.13 L137.70,147.31 L137.60,147.50 L137.50,147.68 L137.41,147.86 L137.32,148.04 L137.23,148.21 L137.14,148.37 L137.05,148.53 L136.96,148.69 L136.86,148.84 L136.77,148.99 L136.67,149.14 L136.57,149.29 L136.47,149.43 L136.36,149.58 L136.24,149.72 L136.12,149.86 L136.00,150.00 L135.87,150.14 L135.73,150.29 L135.60,150.43 L135.45,150.58 L135.31,150.72 L135.15,150.87 L135.00,151.01 L134.84,151.14 L134.68,151.28 L134.52,151.40 L134.36,151.52 L134.19,151.64 L134.02,151.74 L133.85,151.84 L133.67,151.93 L133.50,152.00 L133.32,152.06 L133.14,152.12 L132.96,152.17 L132.77,152.21 L132.58,152.24 L132.39,152.27 L132.20,152.29 L132.00,152.30 L131.80,152.31 L131.60,152.31 L131.40,152.30 L131.20,152.29 L131.00,152.27 L130.80,152.25 L130.60,152.23 L130.40,152.20 L130.20,152.16 L130.00,152.12 L129.80,152.07 L129.60,152.01 L129.39,151.95 L129.19,151.87 L128.99,151.80 L128.78,151.72 L128.58,151.63 L128.37,151.55 L128.16,151.46 L127.95,151.37 L127.74,151.28 L127.53,151.18 L127.31,151.09 L127.10,151.00 L126.88,150.91 L126.66,150.82 L126.44,150.74 L126.21,150.65 L125.98,150.56 L125.75,150.47 L125.52,150.38 L125.29,150.28 L125.06,150.18 L124.83,150.08 L124.60,149.97 L124.37,149.85 L124.15,149.72 L123.93,149.59 L123.71,149.45 L123.50,149.30 L123.29,149.14 L123.08,148.97 L122.87,148.79 L122.66,148.60 L122.45,148.41 L122.25,148.21 L122.04,148.00 L121.84,147.79 L121.65,147.57 L121.45,147.35 L121.26,147.13 L121.08,146.90 L120.90,146.68 L120.73,146.45 L120.56,146.23 Z" fill="none" stroke="#0000ff" stroke-width="5.6" stroke-linejoin="round"/>
<path d="M120.51,145.92 L120.48,145.62 L120.28,145.43 L119.95,145.30 L119.61,145.18 L119.36,144.99 L119.27,144.72 L119.25,144.41 L119.20,144.12 L119.03,143.89 L118.75,143.71 L118.46,143.53 L118.30,143.30 L118.36,142.98 L118.61,142.60 L118.95,142.21 L119.23,141.86 L119.32,141.59 L119.21,141.39 L118.96,141.25 L118.65,141.12 L118.36,140.99 L118.14,140.82 L118.03,140.63 L118.01,140.42 L118.05,140.20 L118.08,139.98 L118.04,139.75 L117.90,139.52 L117.69,139.28 L117.51,139.02 L117.47,138.73 L117.66,138.41 L117.98,138.06 L118.16,137.70 L117.93,137.33 L117.41,136.94 L117.13,136.53 L117.43,136.10 L118.04,135.67 L118.37,135.24 L118.30,134.80 L118.21,134.36 L118.37,133.93 L118.47,133.51 L118.14,133.08 L117.55,132.64 L117.22,132.22 L117.40,131.85 L117.87,131.53 L118.26,131.22 L118.32,130.90 L118.12,130.54 L117.89,130.18 L117.85,129.84 L118.03,129.56 L118.30,129.29 L118.49,129.01 L118.51,128.71 L118.45,128.39 L118.48,128.08 L118.72,127.82 L119.15,127.60 L119.59,127.37 L119.78,127.09 L119.60,126.73 L119.16,126.31 L118.72,125.88 L118.55,125.51 L118.70,125.20 L118.98,124.92 L119.16,124.62 L119.16,124.28 L119.10,123.93 L119.18,123.62 L119.46,123.36 L119.82,123.13 L120.08,122.89 L120.11,122.60 L119.94,122.26 L119.75,121.92 L119.66,121.61 L119.77,121.39 L120.04,121.24 L120.40,121.16 L120.76,121.10 L121.07,121.04 L121.27,120.94 L121.37,120.78 L121.37,120.58 L121.31,120.33 L121.23,120.06 L121.17,119.79 L121.17,119.55 L121.25,119.34 L121.37,119.14 L121.47,118.91 L121.48,118.62 L121.37,118.27 L121.21,117.89 L121.15,117.55 L121.33,117.31 L121.78,117.18 L122.34,117.10 L122.78,116.96 L122.94,116.69 L122.84,116.30 L122.68,115.87 L122.69,115.52 L122.94,115.29 L123.33,115.12 L123.65,114.93 L123.80,114.65 L123.82,114.31 L123.88,113.99 L124.11,113.74 L124.46,113.57 L124.77,113.37 L124.83,113.04 L124.61,112.54 L124.27,111.98 L124.10,111.51 L124.27,111.22 L124.72,111.10 L125.24,111.01 L125.59,110.82 L125.72,110.51 L125.79,110.17 L125.98,109.89 L126.33,109.69 L126.69,109.48 L126.84,109.17 L126.75,108.74 L126.59,108.29 L126.65,107.93 L127.04,107.73 L127.60,107.61 L127.98,107.41 L128.00,107.04 L127.75,106.53 L127.51,106.01 L127.52,105.61 L127.75,105.34 L128.03,105.10 L128.19,104.79 L128.27,104.43 L128.43,104.12 L128.80,103.98 L129.36,104.00 L129.92,104.05 L130.28,103.94 L130.36,103.59 L130.27,103.07 L130.24,102.60 L130.43,102.32 L130.82,102.24 L131.27,102.20 L131.58,102.03 L131.71,101.68 L131.77,101.27 L131.95,100.95 L132.27,100.76 L132.59,100.56 L132.71,100.15 L132.63,99.54 L132.62,98.99 L133.00,98.80 L133.71,98.93 L134.41,99.06 L134.80,98.91 L134.93,98.49 L135.06,98.09 L135.35,97.86 L135.71,97.72 L135.96,97.50 L136.06,97.11 L136.10,96.68 L136.22,96.35 L136.48,96.22 L136.84,96.25 L137.21,96.33 L137.51,96.36 L137.71,96.25 L137.81,95.98 L137.85,95.61 L137.87,95.21 L137.93,94.86 L138.04,94.63 L138.24,94.54 L138.50,94.56 L138.80,94.64 L139.10,94.69 L139.37,94.66 L139.59,94.55 L139.77,94.39 L139.97,94.25 L140.23,94.19 L140.55,94.22 L140.90,94.29 L141.23,94.31 L141.47,94.22 L141.60,93.96 L141.60,93.56 L141.54,93.09 L141.52,92.68 L141.61,92.41 L141.86,92.30 L142.22,92.30 L142.60,92.30 L142.90,92.19 L143.04,91.92 L143.06,91.54 L143.07,91.16 L143.21,90.88 L143.48,90.70 L143.78,90.54 L143.97,90.29 L144.02,89.93 L144.04,89.55 L144.20,89.27 L144.60,89.19 L145.17,89.27 L145.74,89.35 L146.12,89.31 L146.27,89.08 L146.24,88.70 L146.16,88.28 L146.14,87.91 L146.24,87.64 L146.44,87.47 L146.67,87.34 L146.85,87.17 L146.96,86.93 L147.00,86.64 L147.03,86.34 L147.13,86.09 L147.33,85.95 L147.62,85.90 L147.95,85.90 L148.26,85.90 L148.49,85.81 L148.60,85.60 L148.63,85.29 L148.62,84.92 L148.64,84.57 L148.74,84.32 L148.93,84.21 L149.22,84.23 L149.56,84.34 L149.91,84.47 L150.23,84.56 L150.48,84.57 L150.67,84.49 L150.82,84.33 L150.95,84.15 L151.10,84.00 L151.28,83.89 L151.50,83.84 L151.72,83.81 L151.93,83.76 L152.09,83.63 L152.20,83.40 L152.25,83.08 L152.27,82.70 L152.31,82.34 L152.39,82.05 L152.54,81.88 L152.77,81.86 L153.05,81.95 L153.36,82.09 L153.66,82.23 L153.91,82.28 L154.10,82.22 L154.25,82.06 L154.36,81.82 L154.47,81.57 L154.61,81.36 L154.77,81.23 L154.97,81.19 L155.20,81.22 L155.43,81.28 L155.66,81.33 L155.87,81.32 L156.06,81.24 L156.22,81.11 L156.38,80.95 L156.56,80.84 L156.77,80.81 L157.03,80.88 L157.34,81.03 L157.65,81.21 L157.95,81.32 L158.18,81.31 L158.35,81.14 L158.44,80.81 L158.48,80.38 L158.52,79.94 L158.60,79.59 L158.75,79.37 L158.97,79.29 L159.24,79.31 L159.52,79.36 L159.78,79.34 L160.00,79.23 L160.19,79.05 L160.39,78.86 L160.63,78.76 L160.94,78.79 L161.30,78.93 L161.64,79.04 L161.93,78.98 L162.13,78.72 L162.28,78.33 L162.45,77.98 L162.71,77.85 L163.06,77.97 L163.47,78.25 L163.85,78.52 L164.17,78.61 L164.40,78.49 L164.57,78.21 L164.73,77.89 L164.91,77.63 L165.12,77.47 L165.35,77.39 L165.58,77.32 L165.79,77.19 L165.97,76.96 L166.12,76.65 L166.29,76.35 L166.50,76.13 L166.75,76.08 L167.03,76.21 L167.31,76.48 L167.57,76.80 L167.78,77.08 L167.97,77.24 L168.17,77.26 L168.38,77.14 L168.62,76.96 L168.88,76.80 L169.12,76.72 L169.34,76.78 L169.52,76.96 L169.66,77.22 L169.78,77.47 L169.92,77.68 L170.11,77.79 L170.34,77.83 L170.60,77.87 L170.83,77.97 L170.99,78.17 L171.07,78.47 L171.13,78.78 L171.29,79.00 L171.66,79.03 L172.24,78.94 L172.86,78.85 L173.28,78.96 L173.37,79.33 L173.25,79.86 L173.17,80.35 L173.30,80.69 L173.58,80.92 L173.82,81.18 L173.90,81.55 L173.90,81.98 L174.03,82.32 L174.37,82.48 L174.84,82.53 L175.22,82.65 L175.36,82.96 L175.28,83.46 L175.17,83.97 L175.29,84.31 L175.71,84.40 L176.29,84.37 L176.79,84.39 L177.09,84.57 L177.23,84.89 L177.36,85.20 L177.60,85.42 L177.90,85.58 L178.14,85.80 L178.18,86.17 L178.05,86.67 L177.90,87.20 L177.92,87.60 L178.18,87.77 L178.65,87.78 L179.13,87.77 L179.46,87.88 L179.58,88.17 L179.58,88.56 L179.58,88.93 L179.71,89.20 L179.98,89.34 L180.32,89.43 L180.60,89.55 L180.78,89.75 L180.88,90.02 L180.97,90.28 L181.14,90.47 L181.45,90.56 L181.85,90.58 L182.26,90.59 L182.57,90.66 L182.71,90.86 L182.68,91.18 L182.52,91.59 L182.34,92.02 L182.22,92.39 L182.22,92.67 L182.35,92.86 L182.57,92.97 L182.82,93.04 L183.04,93.13 L183.21,93.26 L183.31,93.44 L183.37,93.65 L183.43,93.86 L183.53,94.04 L183.69,94.17 L183.91,94.25 L184.16,94.28 L184.42,94.30 L184.63,94.32 L184.79,94.38 L184.89,94.48 L184.94,94.62 L184.99,94.80 L185.05,95.00 L185.15,95.19 L185.30,95.35 L185.48,95.45 L185.67,95.47 L185.85,95.40 L185.99,95.24 L186.10,95.00 L186.16,94.72 L186.19,94.43 L186.22,94.17 L186.27,93.97 L186.37,93.85 L186.52,93.81 L186.73,93.82 L186.96,93.86 L187.19,93.89 L187.41,93.89 L187.59,93.85 L187.74,93.75 L187.86,93.62 L187.97,93.47 L188.10,93.34 L188.26,93.23 L188.49,93.15 L188.77,93.10 L189.07,93.05 L189.33,92.97 L189.51,92.83 L189.57,92.61 L189.50,92.33 L189.35,92.00 L189.17,91.66 L189.04,91.36 L189.00,91.12 L189.08,90.94 L189.28,90.82 L189.55,90.72 L189.83,90.61 L190.05,90.47 L190.16,90.28 L190.15,90.05 L190.06,89.78 L189.96,89.51 L189.91,89.26 L189.95,89.04 L190.08,88.84 L190.25,88.67 L190.41,88.48 L190.49,88.26 L190.47,88.00 L190.39,87.71 L190.33,87.44 L190.39,87.21 L190.62,87.04 L191.01,86.93 L191.50,86.86 L191.95,86.76 L192.24,86.60 L192.31,86.35 L192.18,86.02 L191.95,85.66 L191.78,85.31 L191.74,85.01 L191.87,84.76 L192.04,84.51 L192.14,84.23 L192.08,83.89 L191.93,83.52 L191.89,83.17 L192.12,82.88 L192.53,82.63 L192.85,82.35 L192.83,81.99 L192.52,81.55 L192.23,81.11 L192.27,80.75 L192.67,80.52 L193.21,80.36 L193.64,80.19 L193.85,79.98 L193.90,79.71 L193.94,79.43 L194.06,79.19 L194.28,79.02 L194.51,78.87 L194.66,78.68 L194.69,78.39 L194.59,78.00 L194.47,77.55 L194.41,77.14 L194.51,76.85 L194.76,76.72 L195.13,76.74 L195.53,76.83 L195.88,76.89 L196.13,76.84 L196.28,76.64 L196.39,76.33 L196.53,76.01 L196.73,75.80 L197.00,75.73 L197.32,75.80 L197.63,75.90 L197.91,75.92 L198.17,75.81 L198.42,75.65 L198.68,75.55 L198.97,75.62 L199.28,75.87 L199.58,76.20 L199.86,76.44 L200.11,76.45 L200.34,76.20 L200.57,75.79 L200.81,75.34 L201.07,75.02 L201.34,74.90 L201.60,74.98 L201.86,75.17 L202.11,75.33 L202.37,75.39 L202.64,75.35 L202.92,75.28 L203.19,75.29 L203.44,75.44 L203.65,75.71 L203.84,76.02 L204.05,76.24 L204.31,76.27 L204.64,76.13 L205.02,75.95 L205.36,75.89 L205.60,76.09 L205.73,76.53 L205.79,77.07 L205.90,77.48 L206.14,77.65 L206.51,77.60 L206.91,77.49 L207.27,77.47 L207.55,77.59 L207.78,77.77 L208.05,77.88 L208.39,77.87 L208.78,77.79 L209.14,77.72 L209.41,77.80 L209.55,78.06 L209.58,78.47 L209.56,78.94 L209.57,79.34 L209.68,79.59 L209.91,79.68 L210.23,79.67 L210.58,79.64 L210.87,79.68 L211.06,79.85 L211.14,80.13 L211.14,80.45 L211.14,80.76 L211.21,81.00 L211.38,81.18 L211.61,81.33 L211.81,81.52 L211.90,81.76 L211.86,82.07 L211.79,82.39 L211.80,82.67 L212.03,82.86 L212.49,82.99 L213.05,83.10 L213.52,83.25 L213.73,83.50 L213.65,83.84 L213.39,84.22 L213.15,84.60 L213.08,84.92 L213.18,85.20 L213.35,85.47 L213.41,85.77 L213.31,86.12 L213.14,86.47 L213.10,86.80 L213.30,87.08 L213.68,87.35 L213.97,87.63 L213.97,87.96 L213.68,88.33 L213.31,88.70 L213.15,89.03 L213.35,89.32 L213.79,89.60 L214.23,89.88 L214.47,90.19 L214.47,90.50 L214.36,90.82 L214.32,91.13 L214.40,91.45 L214.52,91.76 L214.51,92.07 L214.25,92.37 L213.79,92.65 L213.34,92.93 L213.13,93.21 L213.26,93.53 L213.60,93.86 L213.93,94.20 L214.03,94.52 L213.85,94.81 L213.53,95.09 L213.29,95.36 L213.27,95.67 L213.42,96.01 L213.56,96.36 L213.55,96.68 L213.38,96.97 L213.24,97.26 L213.29,97.59 L213.57,97.96 L213.91,98.34 L214.07,98.68 L213.90,98.96 L213.43,99.18 L212.88,99.39 L212.48,99.64 L212.34,99.91 L212.42,100.21 L212.57,100.50 L212.65,100.79 L212.61,101.05 L212.48,101.30 L212.36,101.55 L212.35,101.82 L212.49,102.09 L212.72,102.37 L212.91,102.66 L212.95,102.93 L212.79,103.19 L212.48,103.43 L212.17,103.67 L212.05,103.95 L212.21,104.26 L212.59,104.60 L212.97,104.94 L213.15,105.26 L213.04,105.56 L212.73,105.83 L212.41,106.10 L212.23,106.38 L212.20,106.69 L212.16,107.00 L211.97,107.29 L211.61,107.56 L211.25,107.83 L211.13,108.13 L211.34,108.49 L211.77,108.89 L212.14,109.28 L212.19,109.63 L211.89,109.92 L211.49,110.20 L211.29,110.52 L211.40,110.89 L211.63,111.29 L211.73,111.66 L211.59,112.00 L211.38,112.31 L211.32,112.66 L211.47,113.05 L211.60,113.44 L211.46,113.76 L210.97,114.00 L210.32,114.18 L209.86,114.39 L209.77,114.70 L210.00,115.10 L210.29,115.52 L210.42,115.90 L210.31,116.21 L210.12,116.49 L210.03,116.79 L210.09,117.15 L210.21,117.54 L210.19,117.87 L209.93,118.12 L209.52,118.31 L209.19,118.52 L209.11,118.83 L209.29,119.24 L209.55,119.68 L209.62,120.07 L209.38,120.31 L208.89,120.44 L208.36,120.54 L208.00,120.72 L207.86,120.99 L207.82,121.32 L207.74,121.62 L207.54,121.86 L207.28,122.08 L207.13,122.36 L207.21,122.74 L207.47,123.20 L207.73,123.66 L207.79,124.02 L207.55,124.23 L207.11,124.36 L206.67,124.48 L206.40,124.69 L206.37,124.99 L206.49,125.35 L206.60,125.70 L206.56,126.00 L206.35,126.23 L206.04,126.41 L205.78,126.62 L205.65,126.88 L205.62,127.21 L205.54,127.51 L205.26,127.72 L204.77,127.80 L204.25,127.85 L203.95,128.04 L204.00,128.48 L204.29,129.11 L204.48,129.70 L204.36,130.07 L203.97,130.25 L203.59,130.43 L203.38,130.75 L203.27,131.14 L203.02,131.42 L202.56,131.53 L202.08,131.61 L201.81,131.86 L201.81,132.32 L201.86,132.82 L201.72,133.15 L201.26,133.22 L200.64,133.16 L200.13,133.18 L199.91,133.44 L199.91,133.89 L199.92,134.36 L199.79,134.70 L199.55,134.93 L199.35,135.20 L199.29,135.60 L199.30,136.07 L199.24,136.48 L198.98,136.68 L198.52,136.64 L197.99,136.49 L197.56,136.40 L197.29,136.47 L197.16,136.73 L197.10,137.08 L197.01,137.42 L196.84,137.64 L196.60,137.71 L196.30,137.67 L195.99,137.59 L195.71,137.57 L195.47,137.65 L195.28,137.83 L195.11,138.06 L194.91,138.23 L194.64,138.30 L194.31,138.29 L193.96,138.28 L193.71,138.42 L193.60,138.79 L193.60,139.36 L193.62,139.94 L193.51,140.34 L193.21,140.44 L192.76,140.32 L192.30,140.17 L191.93,140.17 L191.67,140.36 L191.46,140.61 L191.20,140.78 L190.85,140.81 L190.47,140.79 L190.15,140.86 L189.95,141.12 L189.86,141.54 L189.75,141.94 L189.52,142.15 L189.13,142.11 L188.65,141.95 L188.23,141.88 L187.97,142.05 L187.89,142.48 L187.88,143.01 L187.80,143.47 L187.60,143.73 L187.30,143.82 L186.99,143.90 L186.73,144.05 L186.53,144.30 L186.32,144.54 L186.03,144.63 L185.63,144.51 L185.18,144.26 L184.76,144.04 L184.44,144.01 L184.24,144.24 L184.12,144.66 L184.01,145.10 L183.84,145.39 L183.56,145.46 L183.21,145.37 L182.84,145.26 L182.54,145.28 L182.31,145.48 L182.14,145.78 L181.96,146.06 L181.72,146.23 L181.41,146.28 L181.10,146.33 L180.87,146.51 L180.74,146.89 L180.66,147.38 L180.54,147.78 L180.29,147.95 L179.89,147.83 L179.41,147.53 L178.95,147.26 L178.60,147.16 L178.35,147.28 L178.18,147.53 L178.01,147.79 L177.80,147.96 L177.55,148.01 L177.28,148.00 L177.03,148.02 L176.83,148.13 L176.66,148.35 L176.51,148.64 L176.37,148.91 L176.18,149.10 L175.95,149.14 L175.68,149.04 L175.37,148.87 L175.08,148.73 L174.82,148.71 L174.63,148.89 L174.48,149.24 L174.36,149.68 L174.21,150.08 L174.00,150.30 L173.71,150.30 L173.39,150.15 L173.05,149.97 L172.74,149.89 L172.47,149.93 L172.22,150.03 L171.95,150.07 L171.66,150.00 L171.33,149.82 L171.01,149.64 L170.72,149.56 L170.49,149.67 L170.33,149.95 L170.21,150.34 L170.10,150.74 L169.97,151.04 L169.79,151.20 L169.58,151.22 L169.34,151.12 L169.08,150.98 L168.83,150.86 L168.61,150.81 L168.42,150.87 L168.27,151.02 L168.13,151.23 L168.00,151.45 L167.86,151.64 L167.70,151.77 L167.51,151.82 L167.30,151.81 L167.09,151.80 L166.88,151.82 L166.69,151.92 L166.55,152.09 L166.42,152.31 L166.29,152.53 L166.13,152.68 L165.93,152.73 L165.67,152.64 L165.39,152.46 L165.10,152.22 L164.84,151.98 L164.63,151.78 L164.47,151.68 L164.34,151.67 L164.20,151.76 L164.08,151.91 L163.97,152.10 L163.88,152.28 L163.78,152.45 L163.68,152.60 L163.57,152.71 L163.45,152.77 L163.32,152.79 L163.19,152.77 L163.06,152.71 L162.94,152.62 L162.81,152.52 L162.67,152.43 L162.50,152.37 L162.27,152.36 L161.98,152.37 L161.67,152.36 L161.41,152.24 L161.26,151.95 L161.22,151.53 L161.16,151.13 L160.93,150.90 L160.48,150.91 L159.93,150.99 L159.53,150.92 L159.39,150.56 L159.47,149.99 L159.53,149.44 L159.42,149.08 L159.15,148.90 L158.85,148.75 L158.63,148.54 L158.50,148.24 L158.37,147.95 L158.11,147.79 L157.69,147.79 L157.16,147.87 L156.67,147.91 L156.38,147.76 L156.33,147.40 L156.42,146.91 L156.47,146.46 L156.32,146.17 L155.96,146.06 L155.52,146.00 L155.20,145.82 L155.07,145.48 L155.05,145.04 L154.92,144.68 L154.61,144.44 L154.31,144.18 L154.27,143.72 L154.47,143.09 L154.51,142.58 L154.07,142.38 L153.29,142.42 L152.63,142.39 L152.37,142.09 L152.35,141.63 L152.23,141.24 L151.93,141.01 L151.61,140.81 L151.46,140.50 L151.47,140.06 L151.47,139.63 L151.31,139.35 L150.95,139.25 L150.51,139.26 L150.14,139.21 L149.95,138.99 L149.96,138.59 L150.05,138.09 L150.08,137.64 L149.97,137.34 L149.69,137.23 L149.31,137.23 L148.93,137.24 L148.63,137.16 L148.41,136.99 L148.22,136.78 L147.95,136.62 L147.56,136.56 L147.10,136.55 L146.73,136.45 L146.60,136.16 L146.68,135.67 L146.81,135.13 L146.80,134.70 L146.58,134.48 L146.22,134.46 L145.85,134.54 L145.57,134.61 L145.37,134.60 L145.21,134.48 L145.00,134.31 L144.72,134.17 L144.41,134.14 L144.13,134.27 L143.93,134.53 L143.74,134.82 L143.47,135.00 L143.05,135.08 L142.64,135.20 L142.48,135.57 L142.64,136.20 L142.90,136.88 L142.89,137.32 L142.47,137.47 L141.87,137.50 L141.44,137.66 L141.26,137.98 L141.17,138.35 L140.94,138.65 L140.51,138.90 L140.20,139.23 L140.26,139.71 L140.51,140.25 L140.41,140.67 L139.83,140.94 L139.27,141.22 L139.26,141.66 L139.67,142.23 L139.99,142.75 L139.93,143.15 L139.68,143.47 L139.54,143.80 L139.53,144.16 L139.52,144.50 L139.34,144.75 L138.98,144.90 L138.51,145.01 L138.08,145.11 L137.81,145.26 L137.73,145.48 L137.82,145.76 L138.00,146.07 L138.16,146.38 L138.24,146.65 L138.19,146.86 L138.03,147.01 L137.78,147.12 L137.52,147.22 L137.29,147.34 L137.14,147.50 L137.09,147.70 L137.10,147.92 L137.13,148.16 L137.14,148.38 L137.11,148.57 L137.01,148.72 L136.88,148.85 L136.72,148.96 L136.57,149.08 L136.47,149.22 L136.42,149.40 L136.43,149.63 L136.48,149.92 L136.55,150.23 L136.58,150.53 L136.55,150.77 L136.42,150.93 L136.16,150.98 L135.81,150.94 L135.41,150.83 L135.03,150.73 L134.70,150.67 L134.48,150.71 L134.34,150.84 L134.25,151.05 L134.18,151.27 L134.08,151.47 L133.94,151.61 L133.76,151.67 L133.56,151.69 L133.37,151.68 L133.20,151.70 L133.04,151.77 L132.90,151.91 L132.75,152.11 L132.60,152.33 L132.42,152.52 L132.22,152.62 L132.01,152.61 L131.81,152.48 L131.60,152.28 L131.41,152.05 L131.23,151.88 L131.04,151.82 L130.84,151.90 L130.62,152.10 L130.37,152.37 L130.11,152.62 L129.84,152.80 L129.59,152.84 L129.38,152.73 L129.20,152.51 L129.06,152.23 L128.92,151.97 L128.76,151.77 L128.57,151.65 L128.36,151.57 L128.15,151.49 L127.96,151.34 L127.82,151.10 L127.70,150.79 L127.58,150.47 L127.42,150.24 L127.19,150.16 L126.88,150.26 L126.53,150.49 L126.17,150.75 L125.84,150.92 L125.58,150.90 L125.39,150.69 L125.25,150.36 L125.12,150.04 L124.94,149.83 L124.70,149.77 L124.39,149.82 L124.05,149.89 L123.75,149.88 L123.52,149.73 L123.35,149.50 L123.21,149.24 L123.01,149.06 L122.71,148.97 L122.36,148.93 L122.04,148.84 L121.88,148.57 L121.92,148.12 L122.09,147.56 L122.22,147.06 L122.17,146.73 L121.88,146.62 L121.43,146.62 L120.99,146.61 L120.67,146.49 L120.51,146.26 Z" fill="none" stroke="#0000ff" stroke-width="5.0" stroke-linejoin="round"/>
<path d="M120.68,145.80 L120.61,145.53 L120.54,145.26 L120.38,145.05 L120.04,144.93 L119.57,144.88 L119.10,144.80 L118.79,144.64 L118.72,144.35 L118.86,143.97 L119.07,143.57 L119.18,143.23 L119.10,142.98 L118.83,142.80 L118.48,142.65 L118.19,142.47 L118.05,142.25 L118.06,141.98 L118.15,141.71 L118.24,141.45 L118.28,141.22 L118.24,141.01 L118.15,140.82 L118.04,140.63 L117.98,140.43 L118.01,140.21 L118.17,139.97 L118.42,139.71 L118.70,139.46 L118.88,139.20 L118.83,138.94 L118.48,138.68 L117.94,138.40 L117.45,138.08 L117.29,137.73 L117.49,137.34 L117.73,136.94 L117.70,136.53 L117.51,136.10 L117.58,135.67 L117.94,135.23 L118.14,134.80 L117.85,134.35 L117.46,133.90 L117.56,133.47 L118.15,133.08 L118.70,132.70 L118.77,132.33 L118.47,131.94 L118.16,131.56 L118.05,131.20 L118.11,130.87 L118.12,130.54 L117.97,130.19 L117.70,129.82 L117.54,129.47 L117.64,129.16 L118.02,128.92 L118.53,128.71 L118.91,128.48 L119.01,128.19 L118.84,127.85 L118.58,127.48 L118.45,127.14 L118.59,126.85 L118.94,126.59 L119.27,126.33 L119.42,126.03 L119.38,125.68 L119.34,125.33 L119.46,125.02 L119.74,124.75 L119.96,124.46 L119.92,124.12 L119.57,123.71 L119.12,123.27 L118.83,122.87 L118.88,122.56 L119.20,122.34 L119.64,122.17 L120.00,122.00 L120.19,121.80 L120.24,121.57 L120.24,121.33 L120.26,121.10 L120.33,120.91 L120.48,120.76 L120.67,120.64 L120.88,120.53 L121.07,120.42 L121.20,120.27 L121.25,120.07 L121.23,119.82 L121.15,119.54 L121.09,119.26 L121.12,119.02 L121.31,118.83 L121.68,118.71 L122.12,118.62 L122.46,118.46 L122.57,118.19 L122.41,117.80 L122.12,117.34 L121.91,116.91 L121.90,116.56 L122.10,116.31 L122.35,116.07 L122.49,115.79 L122.53,115.45 L122.60,115.12 L122.85,114.89 L123.33,114.77 L123.87,114.69 L124.26,114.54 L124.35,114.23 L124.19,113.79 L123.99,113.32 L124.00,112.95 L124.29,112.74 L124.74,112.62 L125.11,112.45 L125.26,112.15 L125.23,111.76 L125.20,111.36 L125.33,111.05 L125.57,110.81 L125.76,110.53 L125.74,110.14 L125.53,109.65 L125.36,109.20 L125.49,108.90 L126.00,108.77 L126.69,108.72 L127.22,108.58 L127.40,108.28 L127.34,107.87 L127.30,107.47 L127.46,107.16 L127.75,106.92 L127.96,106.64 L127.97,106.26 L127.87,105.81 L127.91,105.43 L128.21,105.21 L128.68,105.12 L129.07,104.99 L129.19,104.68 L129.05,104.17 L128.87,103.60 L128.86,103.16 L129.13,102.94 L129.59,102.90 L130.05,102.87 L130.37,102.72 L130.59,102.48 L130.83,102.25 L131.21,102.14 L131.69,102.13 L132.09,102.05 L132.26,101.72 L132.17,101.16 L132.05,100.56 L132.18,100.17 L132.63,100.07 L133.19,100.07 L133.54,99.86 L133.61,99.38 L133.63,98.86 L133.85,98.52 L134.24,98.34 L134.55,98.11 L134.69,97.71 L134.80,97.29 L135.12,97.10 L135.68,97.19 L136.31,97.39 L136.77,97.48 L137.00,97.32 L137.05,96.97 L137.05,96.54 L137.09,96.16 L137.22,95.91 L137.43,95.79 L137.67,95.75 L137.90,95.70 L138.10,95.61 L138.26,95.43 L138.38,95.20 L138.48,94.96 L138.62,94.76 L138.80,94.65 L139.06,94.63 L139.38,94.68 L139.70,94.70 L139.94,94.62 L140.08,94.40 L140.12,94.05 L140.12,93.65 L140.16,93.30 L140.30,93.09 L140.56,93.04 L140.94,93.14 L141.37,93.28 L141.77,93.36 L142.08,93.32 L142.28,93.15 L142.41,92.90 L142.55,92.64 L142.74,92.44 L143.01,92.30 L143.28,92.15 L143.44,91.88 L143.43,91.46 L143.29,90.94 L143.20,90.47 L143.33,90.18 L143.73,90.10 L144.24,90.10 L144.66,90.03 L144.85,89.79 L144.84,89.39 L144.80,88.96 L144.87,88.63 L145.11,88.45 L145.44,88.36 L145.76,88.28 L146.00,88.13 L146.14,87.90 L146.24,87.65 L146.40,87.45 L146.67,87.34 L147.03,87.33 L147.44,87.37 L147.78,87.36 L147.99,87.24 L148.04,86.97 L147.96,86.57 L147.84,86.12 L147.75,85.69 L147.77,85.36 L147.91,85.17 L148.16,85.08 L148.44,85.06 L148.71,85.03 L148.93,84.95 L149.09,84.79 L149.21,84.59 L149.33,84.38 L149.48,84.22 L149.69,84.14 L149.94,84.13 L150.22,84.17 L150.49,84.20 L150.71,84.16 L150.87,84.03 L150.98,83.80 L151.04,83.50 L151.11,83.21 L151.22,82.99 L151.40,82.88 L151.66,82.91 L151.99,83.04 L152.33,83.22 L152.65,83.38 L152.92,83.45 L153.12,83.39 L153.25,83.21 L153.34,82.95 L153.42,82.66 L153.51,82.40 L153.64,82.20 L153.81,82.07 L154.00,81.99 L154.19,81.92 L154.36,81.81 L154.51,81.64 L154.63,81.41 L154.74,81.15 L154.86,80.90 L155.01,80.73 L155.20,80.66 L155.44,80.72 L155.71,80.88 L156.00,81.10 L156.30,81.29 L156.56,81.40 L156.78,81.37 L156.94,81.21 L157.06,80.94 L157.16,80.64 L157.28,80.38 L157.44,80.22 L157.66,80.19 L157.93,80.25 L158.22,80.35 L158.50,80.42 L158.74,80.42 L158.94,80.31 L159.11,80.14 L159.28,79.96 L159.48,79.84 L159.72,79.81 L160.00,79.85 L160.29,79.90 L160.53,79.84 L160.71,79.61 L160.81,79.18 L160.88,78.65 L160.98,78.17 L161.18,77.91 L161.49,77.93 L161.89,78.13 L162.29,78.36 L162.63,78.44 L162.90,78.34 L163.12,78.14 L163.36,77.97 L163.64,77.92 L163.95,77.99 L164.26,78.08 L164.53,78.08 L164.75,77.94 L164.92,77.67 L165.08,77.37 L165.26,77.15 L165.50,77.09 L165.79,77.19 L166.12,77.41 L166.42,77.62 L166.68,77.72 L166.87,77.65 L167.02,77.42 L167.17,77.07 L167.34,76.71 L167.55,76.42 L167.79,76.26 L168.04,76.25 L168.27,76.33 L168.48,76.45 L168.70,76.55 L168.92,76.59 L169.16,76.58 L169.41,76.57 L169.65,76.60 L169.85,76.75 L169.99,77.01 L170.07,77.38 L170.11,77.78 L170.16,78.13 L170.29,78.33 L170.54,78.37 L170.90,78.28 L171.32,78.18 L171.68,78.20 L171.89,78.41 L171.92,78.80 L171.89,79.24 L171.97,79.58 L172.25,79.77 L172.65,79.88 L172.99,80.05 L173.16,80.36 L173.29,80.70 L173.56,80.93 L174.06,81.00 L174.61,81.03 L174.94,81.20 L174.93,81.62 L174.71,82.21 L174.52,82.79 L174.56,83.18 L174.86,83.37 L175.26,83.48 L175.56,83.66 L175.70,83.98 L175.80,84.33 L176.01,84.59 L176.39,84.71 L176.81,84.79 L177.10,84.99 L177.17,85.35 L177.11,85.82 L177.14,86.21 L177.42,86.39 L177.92,86.38 L178.49,86.32 L178.92,86.36 L179.10,86.60 L179.10,87.00 L179.05,87.44 L179.09,87.80 L179.26,88.05 L179.47,88.26 L179.61,88.53 L179.63,88.89 L179.59,89.30 L179.61,89.65 L179.80,89.86 L180.17,89.90 L180.65,89.86 L181.10,89.84 L181.41,89.94 L181.53,90.17 L181.50,90.52 L181.43,90.89 L181.43,91.20 L181.56,91.41 L181.81,91.53 L182.13,91.58 L182.45,91.65 L182.68,91.76 L182.83,91.93 L182.90,92.15 L182.96,92.38 L183.06,92.58 L183.21,92.72 L183.43,92.81 L183.67,92.88 L183.90,92.97 L184.06,93.12 L184.11,93.34 L184.05,93.63 L183.93,93.98 L183.79,94.34 L183.69,94.69 L183.68,94.97 L183.77,95.18 L183.96,95.30 L184.21,95.34 L184.48,95.32 L184.75,95.25 L184.99,95.16 L185.19,95.06 L185.34,94.98 L185.48,94.92 L185.61,94.90 L185.75,94.91 L185.91,94.94 L186.08,94.95 L186.24,94.93 L186.40,94.86 L186.53,94.73 L186.63,94.56 L186.70,94.36 L186.77,94.17 L186.86,94.01 L186.99,93.91 L187.16,93.86 L187.37,93.85 L187.60,93.85 L187.83,93.84 L188.04,93.78 L188.19,93.66 L188.24,93.46 L188.22,93.19 L188.13,92.89 L188.03,92.59 L187.98,92.33 L188.04,92.14 L188.21,92.03 L188.51,91.98 L188.87,91.96 L189.24,91.93 L189.55,91.87 L189.77,91.75 L189.89,91.57 L189.93,91.35 L189.94,91.12 L189.97,90.90 L190.05,90.70 L190.18,90.52 L190.34,90.35 L190.47,90.17 L190.52,89.96 L190.45,89.70 L190.28,89.40 L190.05,89.07 L189.85,88.76 L189.78,88.49 L189.88,88.28 L190.15,88.13 L190.51,88.02 L190.86,87.90 L191.10,87.74 L191.18,87.51 L191.10,87.23 L190.96,86.91 L190.84,86.61 L190.85,86.35 L191.00,86.14 L191.25,85.96 L191.51,85.78 L191.69,85.56 L191.75,85.30 L191.76,85.01 L191.82,84.74 L192.06,84.52 L192.48,84.33 L192.93,84.13 L193.18,83.85 L193.04,83.46 L192.60,83.00 L192.15,82.54 L192.02,82.15 L192.23,81.84 L192.56,81.56 L192.75,81.25 L192.74,80.89 L192.71,80.53 L192.84,80.22 L193.16,80.00 L193.52,79.83 L193.74,79.62 L193.78,79.34 L193.69,78.97 L193.61,78.59 L193.66,78.30 L193.92,78.14 L194.33,78.12 L194.80,78.17 L195.21,78.21 L195.46,78.15 L195.57,77.95 L195.59,77.64 L195.59,77.29 L195.65,76.98 L195.78,76.76 L195.98,76.62 L196.20,76.51 L196.40,76.35 L196.56,76.09 L196.72,75.75 L196.89,75.42 L197.14,75.23 L197.45,75.26 L197.81,75.50 L198.17,75.84 L198.50,76.08 L198.77,76.11 L199.01,75.90 L199.24,75.57 L199.48,75.29 L199.75,75.20 L200.02,75.30 L200.30,75.52 L200.57,75.74 L200.82,75.85 L201.07,75.84 L201.32,75.74 L201.57,75.66 L201.83,75.68 L202.07,75.83 L202.29,76.03 L202.52,76.17 L202.78,76.13 L203.08,75.89 L203.42,75.52 L203.78,75.16 L204.13,74.97 L204.41,75.05 L204.61,75.36 L204.77,75.79 L204.92,76.18 L205.14,76.41 L205.43,76.47 L205.74,76.50 L206.02,76.61 L206.22,76.88 L206.38,77.21 L206.58,77.46 L206.88,77.54 L207.27,77.47 L207.65,77.42 L207.93,77.54 L208.06,77.86 L208.10,78.31 L208.14,78.73 L208.29,78.99 L208.57,79.03 L208.97,78.91 L209.40,78.73 L209.79,78.62 L210.09,78.65 L210.29,78.80 L210.44,79.03 L210.57,79.27 L210.75,79.45 L210.98,79.58 L211.23,79.69 L211.44,79.86 L211.54,80.12 L211.51,80.48 L211.37,80.89 L211.21,81.29 L211.17,81.59 L211.33,81.78 L211.67,81.88 L212.10,81.96 L212.45,82.10 L212.61,82.34 L212.55,82.67 L212.38,83.03 L212.26,83.37 L212.30,83.64 L212.53,83.87 L212.82,84.08 L213.03,84.32 L213.10,84.61 L213.09,84.92 L213.14,85.21 L213.38,85.46 L213.80,85.69 L214.23,85.92 L214.43,86.22 L214.24,86.59 L213.79,87.00 L213.33,87.40 L213.14,87.76 L213.27,88.06 L213.55,88.35 L213.73,88.65 L213.72,88.97 L213.60,89.30 L213.57,89.62 L213.73,89.91 L214.01,90.21 L214.23,90.51 L214.21,90.82 L213.96,91.13 L213.65,91.43 L213.50,91.73 L213.66,92.04 L214.08,92.36 L214.52,92.70 L214.74,93.02 L214.66,93.33 L214.34,93.62 L214.01,93.90 L213.81,94.19 L213.77,94.49 L213.75,94.80 L213.61,95.09 L213.30,95.37 L212.95,95.63 L212.80,95.91 L212.95,96.25 L213.34,96.64 L213.70,97.03 L213.80,97.37 L213.58,97.65 L213.19,97.89 L212.88,98.16 L212.83,98.46 L213.01,98.81 L213.24,99.15 L213.36,99.47 L213.30,99.75 L213.15,100.01 L213.04,100.28 L213.06,100.56 L213.20,100.84 L213.34,101.12 L213.35,101.39 L213.15,101.63 L212.75,101.85 L212.28,102.07 L211.88,102.30 L211.70,102.54 L211.79,102.82 L212.07,103.11 L212.39,103.42 L212.60,103.72 L212.61,104.01 L212.48,104.29 L212.35,104.57 L212.35,104.87 L212.50,105.19 L212.66,105.51 L212.68,105.82 L212.48,106.10 L212.16,106.37 L211.93,106.66 L211.97,106.98 L212.27,107.34 L212.63,107.71 L212.76,108.05 L212.53,108.35 L212.04,108.60 L211.53,108.85 L211.26,109.14 L211.24,109.47 L211.32,109.83 L211.29,110.17 L211.11,110.49 L210.98,110.82 L211.12,111.20 L211.51,111.62 L211.89,112.06 L211.94,112.43 L211.59,112.72 L211.08,112.97 L210.77,113.25 L210.81,113.61 L211.06,114.02 L211.22,114.41 L211.13,114.73 L210.84,115.00 L210.54,115.26 L210.41,115.56 L210.40,115.89 L210.35,116.22 L210.09,116.48 L209.64,116.67 L209.18,116.85 L208.97,117.11 L209.11,117.49 L209.50,117.96 L209.86,118.43 L209.97,118.81 L209.78,119.09 L209.45,119.30 L209.19,119.54 L209.09,119.84 L209.10,120.19 L209.04,120.51 L208.80,120.75 L208.43,120.92 L208.10,121.11 L207.96,121.38 L208.03,121.76 L208.19,122.18 L208.19,122.53 L207.92,122.74 L207.41,122.83 L206.86,122.91 L206.48,123.07 L206.39,123.37 L206.51,123.77 L206.67,124.17 L206.72,124.51 L206.64,124.79 L206.51,125.05 L206.45,125.33 L206.53,125.68 L206.69,126.06 L206.78,126.42 L206.65,126.69 L206.27,126.85 L205.75,126.93 L205.28,127.03 L205.03,127.24 L205.06,127.60 L205.19,128.06 L205.21,128.46 L204.95,128.71 L204.49,128.82 L204.06,128.95 L203.83,129.22 L203.73,129.60 L203.54,129.93 L203.17,130.10 L202.76,130.26 L202.61,130.61 L202.77,131.22 L203.02,131.90 L203.01,132.38 L202.63,132.53 L202.05,132.52 L201.56,132.57 L201.30,132.80 L201.18,133.15 L200.99,133.45 L200.65,133.62 L200.24,133.73 L199.95,133.93 L199.87,134.31 L199.88,134.78 L199.76,135.13 L199.40,135.25 L198.87,135.20 L198.40,135.18 L198.15,135.36 L198.14,135.77 L198.22,136.31 L198.25,136.79 L198.12,137.11 L197.87,137.27 L197.58,137.34 L197.31,137.42 L197.10,137.57 L196.93,137.78 L196.75,137.97 L196.52,138.08 L196.23,138.06 L195.88,137.91 L195.50,137.71 L195.14,137.56 L194.85,137.57 L194.67,137.80 L194.58,138.19 L194.52,138.64 L194.40,138.97 L194.14,139.10 L193.76,139.05 L193.35,138.96 L193.01,138.99 L192.79,139.23 L192.66,139.58 L192.50,139.90 L192.25,140.10 L191.94,140.19 L191.65,140.33 L191.48,140.63 L191.42,141.11 L191.36,141.59 L191.17,141.88 L190.80,141.87 L190.29,141.63 L189.75,141.38 L189.32,141.30 L189.07,141.47 L188.93,141.82 L188.78,142.15 L188.54,142.35 L188.22,142.42 L187.90,142.49 L187.66,142.69 L187.52,143.03 L187.41,143.41 L187.21,143.68 L186.89,143.73 L186.48,143.63 L186.10,143.54 L185.82,143.64 L185.69,143.99 L185.63,144.50 L185.56,145.01 L185.39,145.32 L185.09,145.39 L184.72,145.28 L184.34,145.13 L184.01,145.08 L183.73,145.16 L183.48,145.30 L183.21,145.38 L182.88,145.34 L182.50,145.21 L182.13,145.11 L181.85,145.19 L181.68,145.52 L181.61,146.02 L181.54,146.52 L181.37,146.83 L181.06,146.88 L180.66,146.75 L180.26,146.63 L179.96,146.69 L179.77,146.95 L179.64,147.33 L179.49,147.68 L179.26,147.87 L178.97,147.93 L178.67,147.95 L178.41,148.04 L178.21,148.24 L178.04,148.51 L177.85,148.73 L177.61,148.82 L177.31,148.73 L176.96,148.48 L176.60,148.18 L176.26,147.93 L175.99,147.83 L175.78,147.92 L175.63,148.18 L175.51,148.54 L175.38,148.88 L175.21,149.14 L175.00,149.26 L174.75,149.27 L174.49,149.25 L174.23,149.29 L174.01,149.45 L173.81,149.69 L173.61,149.94 L173.36,150.07 L173.07,150.04 L172.74,149.89 L172.42,149.75 L172.14,149.76 L171.93,149.98 L171.76,150.36 L171.60,150.75 L171.41,151.01 L171.17,151.05 L170.87,150.89 L170.54,150.63 L170.22,150.38 L169.94,150.21 L169.70,150.17 L169.50,150.25 L169.32,150.38 L169.15,150.52 L168.97,150.63 L168.78,150.67 L168.57,150.67 L168.36,150.66 L168.16,150.68 L167.98,150.77 L167.84,150.95 L167.72,151.22 L167.63,151.55 L167.54,151.88 L167.43,152.15 L167.29,152.30 L167.09,152.33 L166.83,152.23 L166.54,152.07 L166.25,151.92 L165.99,151.84 L165.78,151.87 L165.63,152.02 L165.51,152.25 L165.41,152.51 L165.28,152.74 L165.13,152.91 L164.95,152.98 L164.75,152.98 L164.55,152.91 L164.38,152.82 L164.22,152.74 L164.07,152.68 L163.93,152.66 L163.81,152.66 L163.69,152.68 L163.57,152.72 L163.45,152.75 L163.32,152.78 L163.19,152.79 L163.05,152.75 L162.92,152.66 L162.82,152.51 L162.75,152.28 L162.71,151.99 L162.68,151.68 L162.62,151.42 L162.45,151.29 L162.11,151.34 L161.60,151.53 L161.06,151.72 L160.63,151.72 L160.41,151.48 L160.32,151.08 L160.19,150.72 L159.92,150.51 L159.57,150.38 L159.28,150.18 L159.17,149.81 L159.13,149.37 L159.01,149.03 L158.72,148.88 L158.29,148.88 L157.88,148.85 L157.63,148.67 L157.61,148.27 L157.74,147.74 L157.84,147.24 L157.77,146.91 L157.48,146.77 L157.06,146.75 L156.64,146.72 L156.33,146.57 L156.13,146.33 L155.93,146.09 L155.59,145.94 L155.12,145.88 L154.69,145.78 L154.51,145.45 L154.65,144.88 L154.85,144.26 L154.77,143.85 L154.30,143.70 L153.74,143.60 L153.48,143.28 L153.52,142.76 L153.55,142.24 L153.32,141.91 L152.97,141.67 L152.75,141.34 L152.72,140.89 L152.61,140.49 L152.21,140.34 L151.57,140.40 L150.95,140.50 L150.57,140.42 L150.47,140.11 L150.54,139.63 L150.60,139.17 L150.52,138.84 L150.30,138.65 L150.01,138.53 L149.77,138.37 L149.63,138.12 L149.55,137.79 L149.47,137.48 L149.28,137.27 L148.98,137.19 L148.60,137.19 L148.26,137.16 L148.03,136.96 L148.00,136.57 L148.09,136.08 L148.11,135.65 L147.89,135.42 L147.42,135.41 L146.86,135.50 L146.41,135.53 L146.13,135.41 L145.99,135.19 L145.87,134.95 L145.71,134.80 L145.51,134.75 L145.32,134.79 L145.19,134.82 L145.07,134.80 L144.87,134.67 L144.55,134.46 L144.12,134.25 L143.68,134.18 L143.39,134.38 L143.32,134.84 L143.36,135.40 L143.28,135.80 L142.91,135.95 L142.38,135.99 L141.98,136.17 L141.86,136.57 L141.86,137.04 L141.74,137.41 L141.45,137.67 L141.22,137.95 L141.25,138.39 L141.51,138.93 L141.65,139.39 L141.28,139.66 L140.49,139.79 L139.84,140.02 L139.71,140.44 L139.87,140.95 L139.82,141.39 L139.53,141.75 L139.36,142.13 L139.50,142.60 L139.67,143.07 L139.54,143.42 L139.12,143.66 L138.72,143.85 L138.56,144.12 L138.70,144.49 L138.99,144.91 L139.25,145.30 L139.35,145.62 L139.24,145.85 L138.99,146.00 L138.68,146.12 L138.39,146.24 L138.17,146.39 L138.04,146.56 L137.96,146.75 L137.88,146.94 L137.77,147.12 L137.59,147.26 L137.34,147.36 L137.05,147.45 L136.80,147.54 L136.62,147.67 L136.55,147.84 L136.58,148.06 L136.69,148.33 L136.84,148.62 L136.97,148.91 L137.04,149.17 L137.03,149.38 L136.92,149.54 L136.73,149.63 L136.47,149.67 L136.20,149.68 L135.95,149.71 L135.75,149.78 L135.62,149.91 L135.57,150.13 L135.56,150.40 L135.56,150.68 L135.52,150.94 L135.41,151.14 L135.24,151.28 L135.03,151.36 L134.81,151.43 L134.62,151.53 L134.47,151.69 L134.35,151.89 L134.24,152.12 L134.11,152.33 L133.92,152.46 L133.69,152.49 L133.43,152.38 L133.16,152.17 L132.89,151.90 L132.66,151.63 L132.46,151.42 L132.28,151.34 L132.12,151.39 L131.96,151.56 L131.79,151.81 L131.61,152.08 L131.40,152.28 L131.20,152.39 L130.99,152.39 L130.80,152.31 L130.60,152.20 L130.41,152.12 L130.21,152.09 L129.99,152.14 L129.76,152.22 L129.51,152.30 L129.27,152.32 L129.06,152.23 L128.90,152.03 L128.76,151.77 L128.63,151.50 L128.46,151.32 L128.24,151.27 L127.95,151.36 L127.62,151.54 L127.30,151.72 L127.02,151.78 L126.82,151.68 L126.69,151.40 L126.59,150.99 L126.50,150.57 L126.37,150.23 L126.18,150.04 L125.94,149.99 L125.68,149.99 L125.42,149.97 L125.20,149.86 L125.01,149.68 L124.83,149.50 L124.61,149.40 L124.32,149.44 L123.93,149.59 L123.50,149.75 L123.12,149.82 L122.85,149.69 L122.75,149.37 L122.76,148.92 L122.76,148.49 L122.65,148.20 L122.36,148.10 L121.95,148.09 L121.56,148.05 L121.30,147.88 L121.19,147.58 L121.17,147.21 L121.10,146.89 L120.93,146.65 L120.69,146.48 L120.48,146.28 Z" fill="none" stroke="#0000ff" stroke-width="5.0" stroke-linejoin="round"/>
<path d="M431.30,146.50 L431.35,145.99 L431.44,145.48 L431.57,144.96 L431.73,144.44 L431.89,143.93 L432.07,143.41 L432.24,142.90 L432.40,142.40 L432.55,141.91 L432.69,141.42 L432.84,140.94 L432.98,140.46 L433.14,139.98 L433.31,139.50 L433.50,139.01 L433.70,138.50 L433.93,137.98 L434.17,137.44 L434.43,136.89 L434.70,136.34 L434.98,135.79 L435.27,135.25 L435.56,134.72 L435.85,134.20 L436.14,133.70 L436.43,133.22 L436.72,132.75 L437.02,132.29 L437.32,131.82 L437.63,131.36 L437.96,130.89 L438.30,130.40 L438.65,129.90 L439.02,129.39 L439.39,128.87 L439.78,128.35 L440.17,127.83 L440.57,127.31 L440.98,126.80 L441.40,126.30 L441.82,125.81 L442.24,125.34 L442.66,124.87 L443.09,124.41 L443.54,123.94 L444.00,123.47 L444.49,122.99 L445.00,122.50 L445.54,121.99 L446.12,121.46 L446.73,120.91 L447.34,120.37 L447.97,119.83 L448.59,119.30 L449.21,118.78 L449.80,118.30 L450.38,117.84 L450.96,117.40 L451.53,116.98 L452.09,116.57 L452.65,116.17 L453.21,115.78 L453.76,115.39 L454.30,115.00 L454.83,114.62 L455.36,114.25 L455.88,113.88 L456.39,113.53 L456.89,113.17 L457.40,112.82 L457.90,112.46 L458.40,112.10 L458.90,111.74 L459.39,111.39 L459.89,111.05 L460.38,110.70 L460.86,110.35 L461.34,109.98 L461.82,109.60 L462.30,109.20 L462.77,108.77 L463.23,108.32 L463.68,107.84 L464.14,107.36 L464.59,106.88 L465.05,106.40 L465.52,105.94 L466.00,105.50 L466.49,105.08 L467.00,104.66 L467.51,104.25 L468.02,103.85 L468.54,103.46 L469.07,103.09 L469.58,102.74 L470.10,102.40 L470.61,102.09 L471.12,101.79 L471.64,101.52 L472.15,101.26 L472.66,101.01 L473.18,100.77 L473.69,100.53 L474.20,100.30 L474.71,100.08 L475.22,99.86 L475.74,99.66 L476.25,99.46 L476.76,99.27 L477.27,99.08 L477.79,98.89 L478.30,98.70 L478.81,98.50 L479.32,98.30 L479.84,98.10 L480.35,97.90 L480.86,97.71 L481.38,97.54 L481.89,97.38 L482.40,97.25 L482.92,97.15 L483.44,97.08 L483.96,97.03 L484.49,96.99 L485.01,96.96 L485.52,96.94 L486.02,96.90 L486.50,96.85 L486.93,96.78 L487.31,96.71 L487.65,96.63 L487.99,96.55 L488.37,96.47 L488.81,96.40 L489.34,96.34 L490.00,96.30 L490.80,96.27 L491.72,96.25 L492.73,96.24 L493.81,96.24 L494.92,96.25 L496.04,96.26 L497.14,96.28 L498.20,96.30 L499.23,96.33 L500.26,96.38 L501.30,96.43 L502.34,96.48 L503.37,96.54 L504.39,96.60 L505.40,96.65 L506.40,96.70 L507.40,96.74 L508.40,96.78 L509.41,96.81 L510.40,96.84 L511.37,96.87 L512.30,96.90 L513.18,96.92 L514.00,96.95 L514.75,96.98 L515.43,97.00 L516.06,97.03 L516.65,97.05 L517.22,97.07 L517.80,97.09 L518.38,97.10 L519.00,97.10 L519.65,97.10 L520.31,97.09 L520.98,97.08 L521.66,97.06 L522.32,97.03 L522.97,97.00 L523.60,96.96 L524.20,96.90 L524.77,96.83 L525.30,96.76 L525.82,96.67 L526.32,96.58 L526.81,96.47 L527.30,96.36 L527.80,96.24 L528.30,96.10 L528.81,95.96 L529.32,95.81 L529.84,95.66 L530.35,95.49 L530.86,95.31 L531.37,95.11 L531.89,94.89 L532.40,94.65 L532.92,94.37 L533.44,94.06 L533.96,93.73 L534.49,93.38 L535.01,93.02 L535.52,92.67 L536.02,92.32 L536.50,92.00 L536.96,91.71 L537.41,91.43 L537.84,91.17 L538.27,90.92 L538.69,90.65 L539.12,90.37 L539.55,90.05 L540.00,89.70 L540.46,89.31 L540.93,88.89 L541.41,88.45 L541.89,87.99 L542.37,87.51 L542.85,87.01 L543.33,86.51 L543.80,86.00 L544.27,85.47 L544.74,84.91 L545.21,84.34 L545.68,83.75 L546.15,83.16 L546.61,82.59 L547.06,82.03 L547.50,81.50 L547.94,80.99 L548.37,80.48 L548.80,79.98 L549.23,79.49 L549.64,79.03 L550.04,78.59 L550.43,78.18 L550.80,77.80 L551.15,77.47 L551.46,77.19 L551.77,76.94 L552.06,76.71 L552.35,76.50 L552.64,76.28 L552.96,76.05 L553.30,75.80 L553.66,75.52 L554.04,75.23 L554.44,74.92 L554.84,74.62 L555.25,74.32 L555.66,74.03 L556.08,73.75 L556.50,73.50 L556.93,73.27 L557.38,73.05 L557.83,72.85 L558.29,72.66 L558.75,72.48 L559.19,72.31 L559.61,72.15 L560.00,72.00 L560.35,71.85 L560.67,71.72 L560.96,71.59 L561.24,71.47 L561.52,71.36 L561.81,71.26 L562.14,71.17 L562.50,71.10 L562.90,71.03 L563.33,70.97 L563.78,70.91 L564.25,70.87 L564.73,70.84 L565.22,70.84 L565.71,70.85 L566.20,70.90 L566.70,70.97 L567.21,71.07 L567.73,71.19 L568.26,71.33 L568.79,71.49 L569.31,71.68 L569.81,71.88 L570.30,72.10 L570.77,72.34 L571.24,72.61 L571.70,72.89 L572.15,73.20 L572.59,73.52 L573.01,73.87 L573.41,74.23 L573.80,74.60 L574.17,74.99 L574.53,75.41 L574.88,75.85 L575.21,76.30 L575.52,76.77 L575.81,77.24 L576.07,77.72 L576.30,78.20 L576.50,78.69 L576.67,79.19 L576.82,79.70 L576.94,80.22 L577.04,80.74 L577.12,81.26 L577.17,81.78 L577.20,82.30 L577.20,82.81 L577.17,83.33 L577.11,83.84 L577.03,84.35 L576.93,84.86 L576.83,85.38 L576.71,85.89 L576.60,86.40 L576.48,86.92 L576.35,87.43 L576.21,87.96 L576.06,88.48 L575.91,88.99 L575.74,89.50 L575.57,90.01 L575.40,90.50 L575.23,90.97 L575.05,91.41 L574.87,91.84 L574.69,92.26 L574.49,92.70 L574.28,93.16 L574.05,93.65 L573.80,94.20 L573.52,94.81 L573.21,95.48 L572.88,96.18 L572.54,96.91 L572.19,97.65 L571.85,98.37 L571.51,99.06 L571.20,99.70 L570.91,100.30 L570.64,100.87 L570.38,101.42 L570.12,101.96 L569.87,102.48 L569.60,102.99 L569.31,103.49 L569.00,104.00 L568.66,104.51 L568.31,105.01 L567.93,105.51 L567.55,106.00 L567.16,106.48 L566.77,106.94 L566.38,107.38 L566.00,107.80 L565.62,108.19 L565.25,108.56 L564.88,108.92 L564.50,109.25 L564.12,109.57 L563.75,109.89 L563.38,110.19 L563.00,110.50 L562.63,110.80 L562.26,111.08 L561.90,111.35 L561.53,111.61 L561.16,111.88 L560.79,112.14 L560.40,112.41 L560.00,112.70 L559.59,112.99 L559.17,113.29 L558.75,113.59 L558.32,113.89 L557.88,114.21 L557.43,114.53 L556.97,114.86 L556.50,115.20 L556.02,115.56 L555.52,115.93 L555.01,116.31 L554.49,116.70 L553.96,117.10 L553.44,117.50 L552.92,117.90 L552.40,118.30 L551.89,118.71 L551.38,119.12 L550.86,119.54 L550.35,119.97 L549.84,120.39 L549.32,120.81 L548.81,121.21 L548.30,121.60 L547.79,121.98 L547.28,122.35 L546.77,122.72 L546.26,123.08 L545.74,123.43 L545.23,123.77 L544.72,124.09 L544.20,124.40 L543.68,124.70 L543.14,124.98 L542.60,125.25 L542.06,125.51 L541.53,125.76 L541.00,125.99 L540.49,126.20 L540.00,126.40 L539.53,126.57 L539.09,126.71 L538.66,126.83 L538.24,126.94 L537.83,127.04 L537.40,127.15 L536.96,127.26 L536.50,127.40 L536.02,127.56 L535.52,127.72 L535.01,127.90 L534.49,128.08 L533.96,128.26 L533.44,128.44 L532.92,128.62 L532.40,128.80 L531.89,128.98 L531.38,129.16 L530.86,129.34 L530.35,129.53 L529.84,129.70 L529.32,129.88 L528.81,130.04 L528.30,130.20 L527.80,130.35 L527.32,130.49 L526.85,130.62 L526.38,130.75 L525.89,130.87 L525.37,130.99 L524.81,131.10 L524.20,131.20 L523.51,131.30 L522.73,131.40 L521.91,131.49 L521.06,131.57 L520.22,131.65 L519.41,131.72 L518.66,131.77 L518.00,131.80 L517.44,131.81 L516.95,131.81 L516.52,131.79 L516.12,131.76 L515.74,131.72 L515.35,131.68 L514.95,131.64 L514.50,131.60 L514.04,131.56 L513.61,131.51 L513.19,131.46 L512.74,131.41 L512.26,131.36 L511.73,131.30 L511.11,131.25 L510.40,131.20 L509.57,131.15 L508.64,131.10 L507.63,131.05 L506.56,130.99 L505.46,130.94 L504.35,130.89 L503.25,130.85 L502.20,130.80 L501.14,130.76 L500.04,130.71 L498.92,130.66 L497.81,130.62 L496.73,130.58 L495.72,130.55 L494.80,130.52 L494.00,130.50 L493.34,130.49 L492.81,130.49 L492.37,130.50 L491.99,130.51 L491.65,130.52 L491.31,130.53 L490.93,130.54 L490.50,130.55 L490.02,130.55 L489.52,130.54 L489.01,130.54 L488.49,130.53 L487.96,130.52 L487.44,130.52 L486.92,130.53 L486.40,130.55 L485.89,130.58 L485.38,130.61 L484.86,130.65 L484.35,130.70 L483.84,130.75 L483.32,130.81 L482.81,130.88 L482.30,130.95 L481.79,131.02 L481.28,131.09 L480.76,131.17 L480.25,131.25 L479.74,131.34 L479.23,131.45 L478.71,131.59 L478.20,131.75 L477.68,131.94 L477.16,132.16 L476.64,132.40 L476.12,132.66 L475.60,132.93 L475.09,133.21 L474.59,133.50 L474.10,133.80 L473.62,134.10 L473.15,134.42 L472.69,134.75 L472.23,135.09 L471.78,135.44 L471.35,135.79 L470.92,136.14 L470.50,136.50 L470.10,136.86 L469.71,137.23 L469.33,137.60 L468.96,137.98 L468.60,138.36 L468.24,138.74 L467.87,139.12 L467.50,139.50 L467.13,139.87 L466.75,140.23 L466.38,140.59 L466.01,140.96 L465.64,141.32 L465.26,141.70 L464.88,142.09 L464.50,142.50 L464.11,142.93 L463.71,143.38 L463.31,143.84 L462.91,144.31 L462.50,144.79 L462.10,145.27 L461.70,145.74 L461.30,146.20 L460.91,146.66 L460.54,147.12 L460.17,147.58 L459.80,148.04 L459.42,148.49 L459.04,148.94 L458.63,149.37 L458.20,149.80 L457.74,150.22 L457.27,150.63 L456.77,151.03 L456.27,151.43 L455.75,151.82 L455.24,152.19 L454.72,152.55 L454.20,152.90 L453.68,153.24 L453.15,153.57 L452.61,153.89 L452.07,154.19 L451.53,154.48 L451.01,154.75 L450.49,154.99 L450.00,155.20 L449.53,155.38 L449.09,155.52 L448.66,155.64 L448.24,155.73 L447.83,155.81 L447.40,155.88 L446.96,155.94 L446.50,156.00 L446.02,156.06 L445.52,156.11 L445.01,156.16 L444.49,156.19 L443.96,156.22 L443.44,156.23 L442.92,156.22 L442.40,156.20 L441.89,156.16 L441.37,156.12 L440.85,156.06 L440.33,155.99 L439.82,155.90 L439.30,155.79 L438.80,155.66 L438.30,155.50 L437.80,155.32 L437.30,155.11 L436.80,154.89 L436.30,154.64 L435.82,154.38 L435.35,154.10 L434.91,153.81 L434.50,153.50 L434.11,153.18 L433.74,152.84 L433.39,152.49 L433.06,152.12 L432.75,151.74 L432.47,151.34 L432.22,150.93 L432.00,150.50 L431.81,150.05 L431.66,149.57 L431.53,149.08 L431.43,148.57 L431.35,148.05 L431.31,147.53 L431.29,147.01 Z" fill="none" stroke="#0000ff" stroke-width="5.4" stroke-linejoin="round"/>
<path d="M431.30,146.50 L431.35,145.99 L431.44,145.48 L431.57,144.96 L431.73,144.44 L431.89,143.93 L432.07,143.41 L432.24,142.90 L432.40,142.40 L432.55,141.91 L432.69,141.42 L432.84,140.94 L432.98,140.46 L433.14,139.98 L433.31,139.50 L433.50,139.01 L433.70,138.50 L433.93,137.98 L434.17,137.44 L434.43,136.89 L434.70,136.34 L434.98,135.79 L435.27,135.25 L435.56,134.72 L435.85,134.20 L436.14,133.70 L436.43,133.22 L436.72,132.75 L437.02,132.29 L437.32,131.82 L437.63,131.36 L437.96,130.89 L438.30,130.40 L438.65,129.90 L439.02,129.39 L439.39,128.87 L439.78,128.35 L440.17,127.83 L440.57,127.31 L440.98,126.80 L441.40,126.30 L441.82,125.81 L442.24,125.34 L442.66,124.87 L443.09,124.41 L443.54,123.94 L444.00,123.47 L444.49,122.99 L445.00,122.50 L445.54,121.99 L446.12,121.46 L446.73,120.91 L447.34,120.37 L447.97,119.83 L448.59,119.30 L449.21,118.78 L449.80,118.30 L450.38,117.84 L450.96,117.40 L451.53,116.98 L452.09,116.57 L452.65,116.17 L453.21,115.78 L453.76,115.39 L454.30,115.00 L454.83,114.62 L455.36,114.25 L455.88,113.88 L456.39,113.53 L456.89,113.17 L457.40,112.82 L457.90,112.46 L458.40,112.10 L458.90,111.74 L459.39,111.39 L459.89,111.05 L460.38,110.70 L460.86,110.35 L461.34,109.98 L461.82,109.60 L462.30,109.20 L462.77,108.77 L463.23,108.32 L463.68,107.84 L464.14,107.36 L464.59,106.88 L465.05,106.40 L465.52,105.94 L466.00,105.50 L466.49,105.08 L467.00,104.66 L467.51,104.25 L468.02,103.85 L468.54,103.46 L469.07,103.09 L469.58,102.74 L470.10,102.40 L470.61,102.09 L471.12,101.79 L471.64,101.52 L472.15,101.26 L472.66,101.01 L473.18,100.77 L473.69,100.53 L474.20,100.30 L474.71,100.08 L475.22,99.86 L475.74,99.66 L476.25,99.46 L476.76,99.27 L477.27,99.08 L477.79,98.89 L478.30,98.70 L478.81,98.50 L479.32,98.30 L479.84,98.10 L480.35,97.90 L480.86,97.71 L481.38,97.54 L481.89,97.38 L482.40,97.25 L482.92,97.15 L483.44,97.08 L483.96,97.03 L484.49,96.99 L485.01,96.96 L485.52,96.94 L486.02,96.90 L486.50,96.85 L486.93,96.78 L487.31,96.71 L487.65,96.63 L487.99,96.55 L488.37,96.47 L488.81,96.40 L489.34,96.34 L490.00,96.30 L490.80,96.27 L491.72,96.25 L492.73,96.24 L493.81,96.24 L494.92,96.25 L496.04,96.26 L497.14,96.28 L498.20,96.30 L499.23,96.33 L500.26,96.38 L501.30,96.43 L502.34,96.48 L503.37,96.54 L504.39,96.60 L505.40,96.65 L506.40,96.70 L507.40,96.74 L508.40,96.78 L509.41,96.81 L510.40,96.84 L511.37,96.87 L512.30,96.90 L513.18,96.92 L514.00,96.95 L514.75,96.98 L515.43,97.00 L516.06,97.03 L516.65,97.05 L517.22,97.07 L517.80,97.09 L518.38,97.10 L519.00,97.10 L519.65,97.10 L520.31,97.09 L520.98,97.08 L521.66,97.06 L522.32,97.03 L522.97,97.00 L523.60,96.96 L524.20,96.90 L524.77,96.83 L525.30,96.76 L525.82,96.67 L526.32,96.58 L526.81,96.47 L527.30,96.36 L527.80,96.24 L528.30,96.10 L528.81,95.96 L529.32,95.81 L529.84,95.66 L530.35,95.49 L530.86,95.31 L531.37,95.11 L531.89,94.89 L532.40,94.65 L532.92,94.37 L533.44,94.06 L533.96,93.73 L534.49,93.38 L535.01,93.02 L535.52,92.67 L536.02,92.32 L536.50,92.00 L536.96,91.71 L537.41,91.43 L537.84,91.17 L538.27,90.92 L538.69,90.65 L539.12,90.37 L539.55,90.05 L540.00,89.70 L540.46,89.31 L540.93,88.89 L541.41,88.45 L541.89,87.99 L542.37,87.51 L542.85,87.01 L543.33,86.51 L543.80,86.00 L544.27,85.47 L544.74,84.91 L545.21,84.34 L545.68,83.75 L546.15,83.16 L546.61,82.59 L547.06,82.03 L547.50,81.50 L547.94,80.99 L548.37,80.48 L548.80,79.98 L549.23,79.49 L549.64,79.03 L550.04,78.59 L550.43,78.18 L550.80,77.80 L551.15,77.47 L551.46,77.19 L551.77,76.94 L552.06,76.71 L552.35,76.50 L552.64,76.28 L552.96,76.05 L553.30,75.80 L553.66,75.52 L554.04,75.23 L554.44,74.92 L554.84,74.62 L555.25,74.32 L555.66,74.03 L556.08,73.75 L556.50,73.50 L556.93,73.27 L557.38,73.05 L557.83,72.85 L558.29,72.66 L558.75,72.48 L559.19,72.31 L559.61,72.15 L560.00,72.00 L560.35,71.85 L560.67,71.72 L560.96,71.59 L561.24,71.47 L561.52,71.36 L561.81,71.26 L562.14,71.17 L562.50,71.10 L562.90,71.03 L563.33,70.97 L563.78,70.91 L564.25,70.87 L564.73,70.84 L565.22,70.84 L565.71,70.85 L566.20,70.90 L566.70,70.97 L567.21,71.07 L567.73,71.19 L568.26,71.33 L568.79,71.49 L569.31,71.68 L569.81,71.88 L570.30,72.10 L570.77,72.34 L571.24,72.61 L571.70,72.89 L572.15,73.20 L572.59,73.52 L573.01,73.87 L573.41,74.23 L573.80,74.60 L574.17,74.99 L574.53,75.41 L574.88,75.85 L575.21,76.30 L575.52,76.77 L575.81,77.24 L576.07,77.72 L576.30,78.20 L576.50,78.69 L576.67,79.19 L576.82,79.70 L576.94,80.22 L577.04,80.74 L577.12,81.26 L577.17,81.78 L577.20,82.30 L577.20,82.81 L577.17,83.33 L577.11,83.84 L577.03,84.35 L576.93,84.86 L576.83,85.38 L576.71,85.89 L576.60,86.40 L576.48,86.92 L576.35,87.43 L576.21,87.96 L576.06,88.48 L575.91,88.99 L575.74,89.50 L575.57,90.01 L575.40,90.50 L575.23,90.97 L575.05,91.41 L574.87,91.84 L574.69,92.26 L574.49,92.70 L574.28,93.16 L574.05,93.65 L573.80,94.20 L573.52,94.81 L573.21,95.48 L572.88,96.18 L572.54,96.91 L572.19,97.65 L571.85,98.37 L571.51,99.06 L571.20,99.70 L570.91,100.30 L570.64,100.87 L570.38,101.42 L570.12,101.96 L569.87,102.48 L569.60,102.99 L569.31,103.49 L569.00,104.00 L568.66,104.51 L568.31,105.01 L567.93,105.51 L567.55,106.00 L567.16,106.48 L566.77,106.94 L566.38,107.38 L566.00,107.80 L565.62,108.19 L565.25,108.56 L564.88,108.92 L564.50,109.25 L564.12,109.57 L563.75,109.89 L563.38,110.19 L563.00,110.50 L562.63,110.80 L562.26,111.08 L561.90,111.35 L561.53,111.61 L561.16,111.88 L560.79,112.14 L560.40,112.41 L560.00,112.70 L559.59,112.99 L559.17,113.29 L558.75,113.59 L558.32,113.89 L557.88,114.21 L557.43,114.53 L556.97,114.86 L556.50,115.20 L556.02,115.56 L555.52,115.93 L555.01,116.31 L554.49,116.70 L553.96,117.10 L553.44,117.50 L552.92,117.90 L552.40,118.30 L551.89,118.71 L551.38,119.12 L550.86,119.54 L550.35,119.97 L549.84,120.39 L549.32,120.81 L548.81,121.21 L548.30,121.60 L547.79,121.98 L547.28,122.35 L546.77,122.72 L546.26,123.08 L545.74,123.43 L545.23,123.77 L544.72,124.09 L544.20,124.40 L543.68,124.70 L543.14,124.98 L542.60,125.25 L542.06,125.51 L541.53,125.76 L541.00,125.99 L540.49,126.20 L540.00,126.40 L539.53,126.57 L539.09,126.71 L538.66,126.83 L538.24,126.94 L537.83,127.04 L537.40,127.15 L536.96,127.26 L536.50,127.40 L536.02,127.56 L535.52,127.72 L535.01,127.90 L534.49,128.08 L533.96,128.26 L533.44,128.44 L532.92,128.62 L532.40,128.80 L531.89,128.98 L531.38,129.16 L530.86,129.34 L530.35,129.53 L529.84,129.70 L529.32,129.88 L528.81,130.04 L528.30,130.20 L527.80,130.35 L527.32,130.49 L526.85,130.62 L526.38,130.75 L525.89,130.87 L525.37,130.99 L524.81,131.10 L524.20,131.20 L523.51,131.30 L522.73,131.40 L521.91,131.49 L521.06,131.57 L520.22,131.65 L519.41,131.72 L518.66,131.77 L518.00,131.80 L517.44,131.81 L516.95,131.81 L516.52,131.79 L516.12,131.76 L515.74,131.72 L515.35,131.68 L514.95,131.64 L514.50,131.60 L514.04,131.56 L513.61,131.51 L513.19,131.46 L512.74,131.41 L512.26,131.36 L511.73,131.30 L511.11,131.25 L510.40,131.20 L509.57,131.15 L508.64,131.10 L507.63,131.05 L506.56,130.99 L505.46,130.94 L504.35,130.89 L503.25,130.85 L502.20,130.80 L501.14,130.76 L500.04,130.71 L498.92,130.66 L497.81,130.62 L496.73,130.58 L495.72,130.55 L494.80,130.52 L494.00,130.50 L493.34,130.49 L492.81,130.49 L492.37,130.50 L491.99,130.51 L491.65,130.52 L491.31,130.53 L490.93,130.54 L490.50,130.55 L490.02,130.55 L489.52,130.54 L489.01,130.54 L488.49,130.53 L487.96,130.52 L487.44,130.52 L486.92,130.53 L486.40,130.55 L485.89,130.58 L485.38,130.61 L484.86,130.65 L484.35,130.70 L483.84,130.75 L483.32,130.81 L482.81,130.88 L482.30,130.95 L481.79,131.02 L481.28,131.09 L480.76,131.17 L480.25,131.25 L479.74,131.34 L479.23,131.45 L478.71,131.59 L478.20,131.75 L477.68,131.94 L477.16,132.16 L476.64,132.40 L476.12,132.66 L475.60,132.93 L475.09,133.21 L474.59,133.50 L474.10,133.80 L473.62,134.10 L473.15,134.42 L472.69,134.75 L472.23,135.09 L471.78,135.44 L471.35,135.79 L470.92,136.14 L470.50,136.50 L470.10,136.86 L469.71,137.23 L469.33,137.60 L468.96,137.98 L468.60,138.36 L468.24,138.74 L467.87,139.12 L467.50,139.50 L467.13,139.87 L466.75,140.23 L466.38,140.59 L466.01,140.96 L465.64,141.32 L465.26,141.70 L464.88,142.09 L464.50,142.50 L464.11,142.93 L463.71,143.38 L463.31,143.84 L462.91,144.31 L462.50,144.79 L462.10,145.27 L461.70,145.74 L461.30,146.20 L460.91,146.66 L460.54,147.12 L460.17,147.58 L459.80,148.04 L459.42,148.49 L459.04,148.94 L458.63,149.37 L458.20,149.80 L457.74,150.22 L457.27,150.63 L456.77,151.03 L456.27,151.43 L455.75,151.82 L455.24,152.19 L454.72,152.55 L454.20,152.90 L453.68,153.24 L453.15,153.57 L452.61,153.89 L452.07,154.19 L451.53,154.48 L451.01,154.75 L450.49,154.99 L450.00,155.20 L449.53,155.38 L449.09,155.52 L448.66,155.64 L448.24,155.73 L447.83,155.81 L447.40,155.88 L446.96,155.94 L446.50,156.00 L446.02,156.06 L445.52,156.11 L445.01,156.16 L444.49,156.19 L443.96,156.22 L443.44,156.23 L442.92,156.22 L442.40,156.20 L441.89,156.16 L441.37,156.12 L440.85,156.06 L440.33,155.99 L439.82,155.90 L439.30,155.79 L438.80,155.66 L438.30,155.50 L437.80,155.32 L437.30,155.11 L436.80,154.89 L436.30,154.64 L435.82,154.38 L435.35,154.10 L434.91,153.81 L434.50,153.50 L434.11,153.18 L433.74,152.84 L433.39,152.49 L433.06,152.12 L432.75,151.74 L432.47,151.34 L432.22,150.93 L432.00,150.50 L431.81,150.05 L431.66,149.57 L431.53,149.08 L431.43,148.57 L431.35,148.05 L431.31,147.53 L431.29,147.01 Z" fill="none" stroke="#0000ff" stroke-width="7.2" stroke-dasharray="1 0.9" opacity="0.9"/>
<path d="M173.30,76.60 L173.98,76.21 L174.72,75.84 L175.48,75.49 L176.26,75.17 L177.05,74.87 L177.83,74.59 L178.58,74.34 L179.30,74.10 L179.99,73.88 L180.66,73.67 L181.32,73.49 L181.96,73.32 L182.59,73.19 L183.21,73.09 L183.81,73.02 L184.40,73.00 L184.97,73.03 L185.52,73.10 L186.05,73.21 L186.56,73.36 L187.07,73.52 L187.58,73.71 L188.09,73.90 L188.60,74.10 L189.12,74.31 L189.64,74.55 L190.16,74.81 L190.67,75.07 L191.19,75.35 L191.70,75.61 L192.20,75.87 L192.70,76.10 L193.19,76.31 L193.67,76.51 L194.14,76.69 L194.61,76.87 L195.07,77.05 L195.54,77.23 L196.02,77.41 L196.50,77.60 L196.99,77.79 L197.49,77.98 L197.99,78.18 L198.49,78.37 L198.99,78.57 L199.50,78.77 L200.00,78.98 L200.50,79.20 L201.00,79.43 L201.51,79.65 L202.02,79.89 L202.53,80.13 L203.04,80.37 L203.54,80.63 L204.02,80.91 L204.50,81.20 L204.97,81.51 L205.43,81.83 L205.88,82.16 L206.33,82.50 L206.76,82.86 L207.19,83.23 L207.60,83.61 L208.00,84.00 L208.39,84.41 L208.77,84.83 L209.13,85.27 L209.49,85.72 L209.83,86.18 L210.17,86.65 L210.49,87.12 L210.80,87.60 L211.10,88.09 L211.40,88.59 L211.68,89.09 L211.96,89.61 L212.22,90.13 L212.46,90.65 L212.69,91.17 L212.90,91.70 L213.09,92.22 L213.27,92.74 L213.43,93.27 L213.58,93.79 L213.71,94.33 L213.83,94.87 L213.92,95.43 L214.00,96.00 L214.06,96.60 L214.10,97.22 L214.12,97.87 L214.12,98.52 L214.11,99.17 L214.08,99.80 L214.05,100.42 L214.00,101.00 L213.94,101.55 L213.87,102.07 L213.78,102.57 L213.68,103.06 L213.56,103.54 L213.45,104.02 L213.32,104.50 L213.20,105.00 L213.09,105.49 L213.00,105.95 L212.91,106.41 L212.81,106.87 L212.68,107.35 L212.51,107.88 L212.29,108.45 L212.00,109.10 L211.64,109.83 L211.21,110.65 L210.74,111.52 L210.22,112.42 L209.67,113.35 L209.09,114.27 L208.50,115.16 L207.90,116.00 L207.29,116.80 L206.66,117.56 L206.00,118.31 L205.32,119.05 L204.63,119.79 L203.91,120.54 L203.16,121.30 L202.40,122.10 L201.60,122.93 L200.77,123.80 L199.91,124.69 L199.03,125.59 L198.14,126.48 L197.25,127.35 L196.37,128.20 L195.50,129.00 L194.65,129.76 L193.80,130.49 L192.95,131.20 L192.10,131.89 L191.25,132.56 L190.40,133.21 L189.55,133.86 L188.70,134.50 L187.84,135.13 L186.98,135.75 L186.12,136.35 L185.25,136.94 L184.38,137.52 L183.52,138.09 L182.66,138.65 L181.80,139.20 L180.93,139.75 L180.04,140.29 L179.14,140.83 L178.25,141.35 L177.38,141.86 L176.54,142.34 L175.74,142.79 L175.00,143.20 L174.35,143.56 L173.80,143.86 L173.31,144.13 L172.84,144.37 L172.36,144.61 L171.83,144.87 L171.22,145.16 L170.50,145.50 L169.62,145.91 L168.60,146.37 L167.49,146.86 L166.34,147.38 L165.19,147.88 L164.11,148.37 L163.13,148.81 L162.30,149.20 L161.64,149.52 L161.10,149.80 L160.65,150.04 L160.27,150.26 L159.92,150.47 L159.58,150.67 L159.21,150.87 L158.80,151.10 L158.36,151.33 L157.92,151.56 L157.48,151.79 L157.04,152.02 L156.58,152.25 L156.11,152.49 L155.62,152.74 L155.10,153.00 L154.54,153.28 L153.96,153.59 L153.35,153.91 L152.72,154.24 L152.09,154.56 L151.45,154.87 L150.82,155.15 L150.20,155.40 L149.59,155.63 L148.98,155.86 L148.37,156.08 L147.76,156.28 L147.14,156.45 L146.53,156.58 L145.92,156.67 L145.30,156.70 L144.67,156.67 L144.03,156.58 L143.38,156.45 L142.73,156.28 L142.08,156.08 L141.46,155.86 L140.86,155.63 L140.30,155.40 L139.78,155.15 L139.30,154.88 L138.86,154.58 L138.43,154.28 L138.00,153.96 L137.56,153.63 L137.10,153.31 L136.60,153.00 L136.06,152.69 L135.49,152.38 L134.89,152.06 L134.29,151.74 L133.68,151.42 L133.09,151.11 L132.53,150.80 L132.00,150.50 L131.51,150.21 L131.05,149.94 L130.61,149.68 L130.18,149.42 L129.76,149.16 L129.35,148.89 L128.93,148.60 L128.50,148.30 L128.07,147.99 L127.64,147.67 L127.21,147.35 L126.78,147.02 L126.35,146.67 L125.91,146.31 L125.46,145.92 L125.00,145.50 L124.51,145.07 L124.00,144.62 L123.47,144.16 L122.93,143.68 L122.40,143.16 L121.90,142.62 L121.43,142.03 L121.00,141.40 L120.61,140.72 L120.24,139.99 L119.89,139.22 L119.58,138.41 L119.28,137.58 L119.02,136.73 L118.79,135.87 L118.60,135.00 L118.44,134.12 L118.31,133.20 L118.21,132.27 L118.14,131.32 L118.10,130.36 L118.10,129.40 L118.13,128.45 L118.20,127.50 L118.30,126.56 L118.44,125.61 L118.62,124.67 L118.83,123.72 L119.07,122.78 L119.34,121.84 L119.65,120.91 L120.00,120.00 L120.37,119.10 L120.77,118.22 L121.21,117.36 L121.67,116.49 L122.18,115.63 L122.74,114.77 L123.34,113.89 L124.00,113.00 L124.73,112.08 L125.54,111.14 L126.41,110.18 L127.31,109.21 L128.24,108.26 L129.18,107.33 L130.10,106.44 L131.00,105.60 L131.88,104.82 L132.77,104.09 L133.66,103.40 L134.55,102.74 L135.43,102.08 L136.31,101.41 L137.16,100.73 L138.00,100.00 L138.81,99.23 L139.61,98.42 L140.39,97.59 L141.16,96.76 L141.92,95.93 L142.68,95.11 L143.44,94.33 L144.20,93.60 L144.97,92.90 L145.73,92.21 L146.49,91.55 L147.25,90.91 L148.01,90.30 L148.77,89.72 L149.53,89.19 L150.30,88.70 L151.07,88.27 L151.84,87.91 L152.62,87.59 L153.39,87.30 L154.17,87.03 L154.95,86.77 L155.72,86.50 L156.50,86.20 L157.28,85.89 L158.05,85.59 L158.83,85.29 L159.61,84.99 L160.38,84.68 L161.16,84.37 L161.93,84.04 L162.70,83.70 L163.48,83.35 L164.27,82.99 L165.07,82.62 L165.86,82.24 L166.63,81.85 L167.39,81.45 L168.11,81.03 L168.80,80.60 L169.43,80.13 L170.00,79.63 L170.54,79.10 L171.06,78.56 L171.57,78.03 L172.11,77.52 L172.68,77.03 Z" fill="none" stroke="#008000" stroke-width="1.1" mask="url(#mL)"/>
<path d="M430.00,146.00 L429.94,145.74 L429.92,145.47 L429.94,145.17 L429.99,144.86 L430.07,144.54 L430.16,144.20 L430.28,143.85 L430.40,143.50 L430.54,143.14 L430.69,142.78 L430.86,142.41 L431.06,142.03 L431.27,141.63 L431.49,141.21 L431.74,140.77 L432.00,140.30 L432.27,139.80 L432.56,139.25 L432.86,138.69 L433.18,138.10 L433.52,137.51 L433.89,136.92 L434.28,136.35 L434.70,135.80 L435.16,135.28 L435.65,134.77 L436.16,134.27 L436.71,133.78 L437.27,133.29 L437.84,132.80 L438.42,132.31 L439.00,131.80 L439.60,131.28 L440.22,130.74 L440.87,130.20 L441.52,129.66 L442.17,129.12 L442.80,128.59 L443.42,128.08 L444.00,127.60 L444.53,127.15 L445.02,126.73 L445.47,126.34 L445.92,125.95 L446.38,125.56 L446.86,125.17 L447.40,124.75 L448.00,124.30 L448.69,123.81 L449.46,123.28 L450.29,122.72 L451.14,122.16 L452.00,121.60 L452.83,121.06 L453.60,120.55 L454.30,120.10 L454.92,119.70 L455.48,119.34 L456.00,119.01 L456.49,118.71 L456.96,118.41 L457.43,118.12 L457.90,117.82 L458.40,117.50 L458.92,117.17 L459.44,116.84 L459.96,116.51 L460.49,116.17 L461.01,115.84 L461.52,115.50 L462.02,115.15 L462.50,114.80 L462.96,114.44 L463.40,114.06 L463.83,113.67 L464.25,113.28 L464.67,112.89 L465.10,112.51 L465.54,112.15 L466.00,111.80 L466.48,111.47 L466.98,111.15 L467.49,110.84 L468.01,110.54 L468.54,110.25 L469.06,109.96 L469.58,109.68 L470.10,109.40 L470.61,109.12 L471.12,108.85 L471.64,108.59 L472.15,108.33 L472.66,108.07 L473.18,107.81 L473.69,107.56 L474.20,107.30 L474.71,107.05 L475.22,106.80 L475.74,106.55 L476.25,106.30 L476.76,106.05 L477.27,105.80 L477.79,105.55 L478.30,105.30 L478.81,105.04 L479.32,104.78 L479.84,104.52 L480.35,104.25 L480.86,103.98 L481.38,103.72 L481.89,103.46 L482.40,103.20 L482.92,102.94 L483.44,102.68 L483.96,102.42 L484.49,102.16 L485.01,101.91 L485.52,101.66 L486.02,101.43 L486.50,101.20 L486.96,100.99 L487.40,100.79 L487.83,100.61 L488.24,100.43 L488.66,100.26 L489.09,100.08 L489.53,99.89 L490.00,99.70 L490.49,99.50 L491.01,99.29 L491.53,99.08 L492.07,98.87 L492.61,98.65 L493.15,98.44 L493.68,98.22 L494.20,98.00 L494.71,97.78 L495.21,97.57 L495.71,97.35 L496.21,97.14 L496.70,96.92 L497.20,96.69 L497.70,96.45 L498.20,96.20 L498.71,95.94 L499.22,95.66 L499.73,95.37 L500.24,95.07 L500.76,94.77 L501.27,94.47 L501.79,94.18 L502.30,93.90 L502.81,93.63 L503.33,93.36 L503.85,93.09 L504.37,92.83 L504.88,92.56 L505.40,92.31 L505.90,92.05 L506.40,91.80 L506.89,91.55 L507.37,91.31 L507.85,91.06 L508.32,90.83 L508.79,90.59 L509.26,90.36 L509.73,90.13 L510.20,89.90 L510.68,89.68 L511.17,89.45 L511.66,89.23 L512.15,89.02 L512.63,88.81 L513.11,88.60 L513.56,88.40 L514.00,88.20 L514.41,88.01 L514.80,87.83 L515.18,87.65 L515.54,87.47 L515.90,87.30 L516.26,87.14 L516.63,86.97 L517.00,86.80 L517.38,86.63 L517.74,86.47 L518.11,86.31 L518.48,86.14 L518.86,85.98 L519.25,85.82 L519.66,85.66 L520.10,85.50 L520.56,85.34 L521.05,85.17 L521.56,85.01 L522.09,84.85 L522.62,84.69 L523.15,84.53 L523.68,84.36 L524.20,84.20 L524.71,84.04 L525.23,83.87 L525.74,83.70 L526.25,83.54 L526.76,83.37 L527.27,83.21 L527.79,83.05 L528.30,82.90 L528.81,82.75 L529.32,82.61 L529.84,82.46 L530.35,82.33 L530.86,82.19 L531.37,82.06 L531.89,81.93 L532.40,81.80 L532.91,81.68 L533.43,81.55 L533.94,81.43 L534.46,81.32 L534.97,81.21 L535.48,81.10 L535.99,81.00 L536.50,80.90 L537.00,80.81 L537.47,80.73 L537.95,80.65 L538.42,80.58 L538.90,80.51 L539.40,80.44 L539.93,80.37 L540.50,80.30 L541.11,80.22 L541.76,80.15 L542.44,80.08 L543.14,80.00 L543.85,79.92 L544.55,79.85 L545.24,79.77 L545.90,79.70 L546.54,79.62 L547.16,79.54 L547.77,79.46 L548.38,79.38 L548.98,79.30 L549.59,79.22 L550.19,79.16 L550.80,79.10 L551.41,79.06 L552.03,79.02 L552.64,78.99 L553.26,78.97 L553.87,78.95 L554.48,78.93 L555.09,78.92 L555.70,78.90 L556.30,78.88 L556.89,78.87 L557.48,78.86 L558.06,78.85 L558.65,78.84 L559.25,78.83 L559.87,78.81 L560.50,78.80 L561.16,78.78 L561.85,78.76 L562.55,78.73 L563.26,78.71 L563.97,78.69 L564.67,78.67 L565.35,78.65 L566.00,78.65 L566.62,78.65 L567.23,78.63 L567.83,78.62 L568.41,78.62 L568.98,78.63 L569.53,78.66 L570.07,78.71 L570.60,78.80 L571.12,78.92 L571.63,79.08 L572.12,79.26 L572.61,79.46 L573.07,79.67 L573.51,79.89 L573.92,80.10 L574.30,80.30 L574.65,80.49 L574.97,80.68 L575.26,80.87 L575.52,81.06 L575.77,81.26 L576.00,81.46 L576.21,81.68 L576.40,81.90 L576.58,82.13 L576.74,82.37 L576.89,82.61 L577.02,82.86 L577.13,83.12 L577.21,83.40 L577.27,83.69 L577.30,84.00 L577.30,84.33 L577.27,84.69 L577.22,85.06 L577.14,85.44 L577.04,85.84 L576.93,86.23 L576.82,86.62 L576.70,87.00 L576.57,87.38 L576.43,87.76 L576.28,88.14 L576.11,88.52 L575.94,88.90 L575.76,89.28 L575.58,89.64 L575.40,90.00 L575.22,90.34 L575.05,90.67 L574.88,90.98 L574.71,91.29 L574.52,91.61 L574.31,91.92 L574.07,92.25 L573.80,92.60 L573.50,92.96 L573.17,93.32 L572.83,93.69 L572.46,94.07 L572.07,94.46 L571.66,94.86 L571.24,95.27 L570.80,95.70 L570.34,96.15 L569.85,96.63 L569.33,97.13 L568.81,97.63 L568.27,98.14 L567.74,98.64 L567.21,99.13 L566.70,99.60 L566.20,100.06 L565.70,100.51 L565.20,100.95 L564.70,101.39 L564.21,101.81 L563.73,102.22 L563.26,102.62 L562.80,103.00 L562.36,103.36 L561.93,103.70 L561.51,104.03 L561.09,104.34 L560.69,104.65 L560.29,104.94 L559.89,105.22 L559.50,105.50 L559.12,105.76 L558.75,105.99 L558.40,106.21 L558.05,106.42 L557.69,106.64 L557.32,106.87 L556.93,107.12 L556.50,107.40 L556.04,107.72 L555.55,108.06 L555.04,108.42 L554.52,108.79 L553.99,109.18 L553.45,109.56 L552.92,109.94 L552.40,110.30 L551.89,110.66 L551.38,111.01 L550.86,111.37 L550.35,111.72 L549.84,112.08 L549.32,112.42 L548.81,112.77 L548.30,113.10 L547.79,113.43 L547.28,113.75 L546.77,114.07 L546.26,114.38 L545.74,114.69 L545.23,115.00 L544.72,115.30 L544.20,115.60 L543.68,115.90 L543.14,116.20 L542.60,116.50 L542.06,116.80 L541.53,117.09 L541.00,117.37 L540.49,117.64 L540.00,117.90 L539.53,118.14 L539.09,118.36 L538.66,118.57 L538.24,118.77 L537.83,118.97 L537.40,119.17 L536.96,119.38 L536.50,119.60 L536.02,119.84 L535.52,120.08 L535.01,120.33 L534.49,120.58 L533.96,120.84 L533.44,121.09 L532.92,121.35 L532.40,121.60 L531.89,121.85 L531.38,122.10 L530.86,122.35 L530.35,122.59 L529.84,122.84 L529.32,123.09 L528.81,123.35 L528.30,123.60 L527.79,123.86 L527.27,124.11 L526.76,124.37 L526.25,124.63 L525.74,124.89 L525.23,125.16 L524.71,125.43 L524.20,125.70 L523.69,125.98 L523.18,126.27 L522.66,126.56 L522.15,126.85 L521.64,127.14 L521.13,127.43 L520.61,127.72 L520.10,128.00 L519.60,128.27 L519.11,128.52 L518.63,128.76 L518.14,129.00 L517.65,129.25 L517.13,129.51 L516.58,129.79 L516.00,130.10 L515.39,130.43 L514.77,130.79 L514.12,131.16 L513.46,131.54 L512.76,131.94 L512.02,132.35 L511.23,132.77 L510.40,133.20 L509.49,133.65 L508.50,134.12 L507.45,134.61 L506.36,135.11 L505.27,135.60 L504.20,136.09 L503.17,136.56 L502.20,137.00 L501.29,137.42 L500.40,137.82 L499.54,138.21 L498.71,138.59 L497.89,138.95 L497.11,139.31 L496.34,139.66 L495.60,140.00 L494.89,140.33 L494.23,140.65 L493.60,140.95 L492.98,141.25 L492.38,141.54 L491.77,141.83 L491.15,142.11 L490.50,142.40 L489.83,142.69 L489.13,142.98 L488.43,143.27 L487.73,143.56 L487.02,143.84 L486.33,144.11 L485.65,144.36 L485.00,144.60 L484.40,144.81 L483.85,145.00 L483.34,145.18 L482.83,145.34 L482.29,145.50 L481.71,145.66 L481.05,145.83 L480.30,146.00 L479.43,146.19 L478.46,146.38 L477.42,146.57 L476.33,146.77 L475.22,146.96 L474.11,147.15 L473.03,147.33 L472.00,147.50 L471.02,147.66 L470.06,147.81 L469.13,147.95 L468.19,148.09 L467.26,148.23 L466.33,148.36 L465.37,148.48 L464.40,148.60 L463.39,148.72 L462.35,148.83 L461.28,148.94 L460.21,149.04 L459.15,149.14 L458.12,149.24 L457.13,149.32 L456.20,149.40 L455.31,149.47 L454.45,149.53 L453.61,149.58 L452.81,149.63 L452.04,149.67 L451.31,149.71 L450.63,149.75 L450.00,149.80 L449.44,149.85 L448.95,149.91 L448.52,149.97 L448.12,150.03 L447.74,150.08 L447.35,150.13 L446.95,150.17 L446.50,150.20 L446.02,150.22 L445.52,150.25 L445.01,150.26 L444.49,150.27 L443.96,150.28 L443.44,150.27 L442.92,150.24 L442.40,150.20 L441.88,150.14 L441.36,150.06 L440.84,149.97 L440.32,149.87 L439.80,149.76 L439.29,149.64 L438.79,149.52 L438.30,149.40 L437.82,149.28 L437.35,149.14 L436.88,149.00 L436.42,148.86 L435.98,148.71 L435.54,148.57 L435.11,148.43 L434.70,148.30 L434.30,148.18 L433.90,148.07 L433.51,147.97 L433.14,147.87 L432.78,147.77 L432.43,147.66 L432.11,147.54 L431.80,147.40 L431.51,147.26 L431.22,147.11 L430.95,146.96 L430.69,146.80 L430.47,146.63 L430.27,146.44 L430.11,146.23 Z" fill="none" stroke="#008000" stroke-width="1.1" mask="url(#mR)"/>
<line x1="41.40" y1="171.20" x2="41.40" y2="45.00" class="a"/>
<line x1="149.90" y1="228.70" x2="41.40" y2="171.20" class="a"/>
<line x1="149.90" y1="228.70" x2="291.90" y2="184.70" class="a"/>
<line x1="41.40" y1="171.20" x2="37.87" y2="169.33" class="a"/>
<line x1="41.40" y1="150.17" x2="37.87" y2="148.29" class="a"/>
<line x1="41.40" y1="129.13" x2="37.87" y2="127.26" class="a"/>
<line x1="41.40" y1="108.10" x2="37.87" y2="106.23" class="a"/>
<line x1="41.40" y1="87.07" x2="37.87" y2="85.19" class="a"/>
<line x1="41.40" y1="66.03" x2="37.87" y2="64.16" class="a"/>
<line x1="41.40" y1="45.00" x2="37.87" y2="43.13" class="a"/>
<line x1="41.40" y1="171.20" x2="37.58" y2="172.38" class="a"/>
<line x1="68.53" y1="185.57" x2="64.70" y2="186.76" class="a"/>
<line x1="95.65" y1="199.95" x2="91.83" y2="201.13" class="a"/>
<line x1="122.78" y1="214.32" x2="118.95" y2="215.51" class="a"/>
<line x1="149.90" y1="228.70" x2="146.08" y2="229.88" class="a"/>
<line x1="149.90" y1="228.70" x2="153.43" y2="230.57" class="a"/>
<line x1="185.40" y1="217.70" x2="188.93" y2="219.57" class="a"/>
<line x1="220.90" y1="206.70" x2="224.43" y2="208.57" class="a"/>
<line x1="256.40" y1="195.70" x2="259.93" y2="197.57" class="a"/>
<line x1="291.90" y1="184.70" x2="295.43" y2="186.57" class="a"/>
<line x1="377.90" y1="170.20" x2="377.90" y2="44.40" class="a"/>
<line x1="488.10" y1="228.60" x2="377.90" y2="170.20" class="a"/>
<line x1="488.10" y1="228.60" x2="631.70" y2="183.90" class="a"/>
<line x1="377.90" y1="170.20" x2="374.37" y2="168.33" class="a"/>
<line x1="377.90" y1="138.75" x2="374.37" y2="136.88" class="a"/>
<line x1="377.90" y1="107.30" x2="374.37" y2="105.43" class="a"/>
<line x1="377.90" y1="75.85" x2="374.37" y2="73.98" class="a"/>
<line x1="377.90" y1="44.40" x2="374.37" y2="42.53" class="a"/>
<line x1="377.90" y1="170.20" x2="374.08" y2="171.39" class="a"/>
<line x1="405.45" y1="184.80" x2="401.63" y2="185.99" class="a"/>
<line x1="433.00" y1="199.40" x2="429.18" y2="200.59" class="a"/>
<line x1="460.55" y1="214.00" x2="456.73" y2="215.19" class="a"/>
<line x1="488.10" y1="228.60" x2="484.28" y2="229.79" class="a"/>
<line x1="488.10" y1="228.60" x2="491.63" y2="230.47" class="a"/>
<line x1="524.00" y1="217.42" x2="527.53" y2="219.30" class="a"/>
<line x1="559.90" y1="206.25" x2="563.43" y2="208.12" class="a"/>
<line x1="595.80" y1="195.07" x2="599.33" y2="196.95" class="a"/>
<line x1="631.70" y1="183.90" x2="635.23" y2="185.77" class="a"/>
<text x="25.60" y="45.35" font-size="15" text-anchor="middle">15</text>
<text x="26.85" y="66.35" font-size="15" text-anchor="middle">10</text>
<text x="28.85" y="85.40" font-size="15" text-anchor="middle">5</text>
<text x="28.90" y="111.15" font-size="15" text-anchor="middle">0</text>
<text x="27.10" y="134.85" font-size="15" text-anchor="middle">-5</text>
<text x="24.85" y="157.30" font-size="15" text-anchor="middle">-10</text>
<text x="24.45" y="179.85" font-size="15" text-anchor="middle">-15</text>
<text x="28.50" y="191.15" font-size="15" text-anchor="middle">400</text>
<text x="58.10" y="201.45" font-size="15" text-anchor="middle">200</text>
<text x="85.10" y="213.25" font-size="15" text-anchor="middle">0</text>
<text x="107.90" y="228.15" font-size="15" text-anchor="middle">-200</text>
<text x="132.30" y="241.85" font-size="15" text-anchor="middle">-400</text>
<text x="164.20" y="242.65" font-size="15" text-anchor="middle">-10</text>
<text x="194.70" y="232.65" font-size="15" text-anchor="middle">-5</text>
<text x="228.30" y="222.65" font-size="15" text-anchor="middle">0</text>
<text x="266.20" y="210.75" font-size="15" text-anchor="middle">5</text>
<text x="294.90" y="201.55" font-size="15" text-anchor="middle">10</text>
<text x="360.10" y="47.45" font-size="15" text-anchor="middle">20</text>
<text x="361.40" y="76.45" font-size="15" text-anchor="middle">10</text>
<text x="364.00" y="111.15" font-size="15" text-anchor="middle">0</text>
<text x="358.70" y="142.95" font-size="15" text-anchor="middle">-10</text>
<text x="358.70" y="172.55" font-size="15" text-anchor="middle">-20</text>
<text x="367.40" y="190.05" font-size="15" text-anchor="middle">400</text>
<text x="393.00" y="203.55" font-size="15" text-anchor="middle">200</text>
<text x="420.50" y="215.85" font-size="15" text-anchor="middle">0</text>
<text x="443.10" y="230.75" font-size="15" text-anchor="middle">-200</text>
<text x="467.80" y="243.25" font-size="15" text-anchor="middle">-400</text>
<text x="498.90" y="244.45" font-size="15" text-anchor="middle">-4</text>
<text x="533.00" y="234.05" font-size="15" text-anchor="middle">-2</text>
<text x="568.00" y="224.65" font-size="15" text-anchor="middle">0</text>
<text x="603.50" y="213.15" font-size="15" text-anchor="middle">2</text>
<text x="633.50" y="203.85" font-size="15" text-anchor="middle">4</text>
<text x="10.50" y="104.70" font-size="15" text-anchor="middle" transform="rotate(-90.00 10.50 104.70)">Force (N)</text>
<text x="339.80" y="111.80" font-size="15" text-anchor="middle" transform="rotate(-90.00 339.80 111.80)">Force (N)</text>
<text x="183.20" y="251.60" font-size="15" text-anchor="start" transform="rotate(-14.50 183.20 251.60)">Displacement (mm)</text>
<text x="516.20" y="258.30" font-size="15" text-anchor="start" transform="rotate(-14.50 516.20 258.30)">Displacement (mm)</text>
<text x="22.90" y="207.20" font-size="15.4" text-anchor="start" transform="rotate(30.20 22.90 207.20)">Velocity (mm·s<tspan dy="-6" font-size="10">-1</tspan><tspan dy="5.5">)</tspan></text>
<text x="351.40" y="205.70" font-size="15.4" text-anchor="start" transform="rotate(30.20 351.40 205.70)">Velocity (mm·s<tspan dy="-6" font-size="10">-1</tspan><tspan dy="5.5">)</tspan></text>
<text x="148.85" y="289.10" font-size="15.5" text-anchor="middle" letter-spacing="0.24">(a) 5 Hz</text>
<text x="481.30" y="289.10" font-size="15.5" text-anchor="middle" letter-spacing="0.24">(b) 10 Hz</text>
</svg></body></html>
